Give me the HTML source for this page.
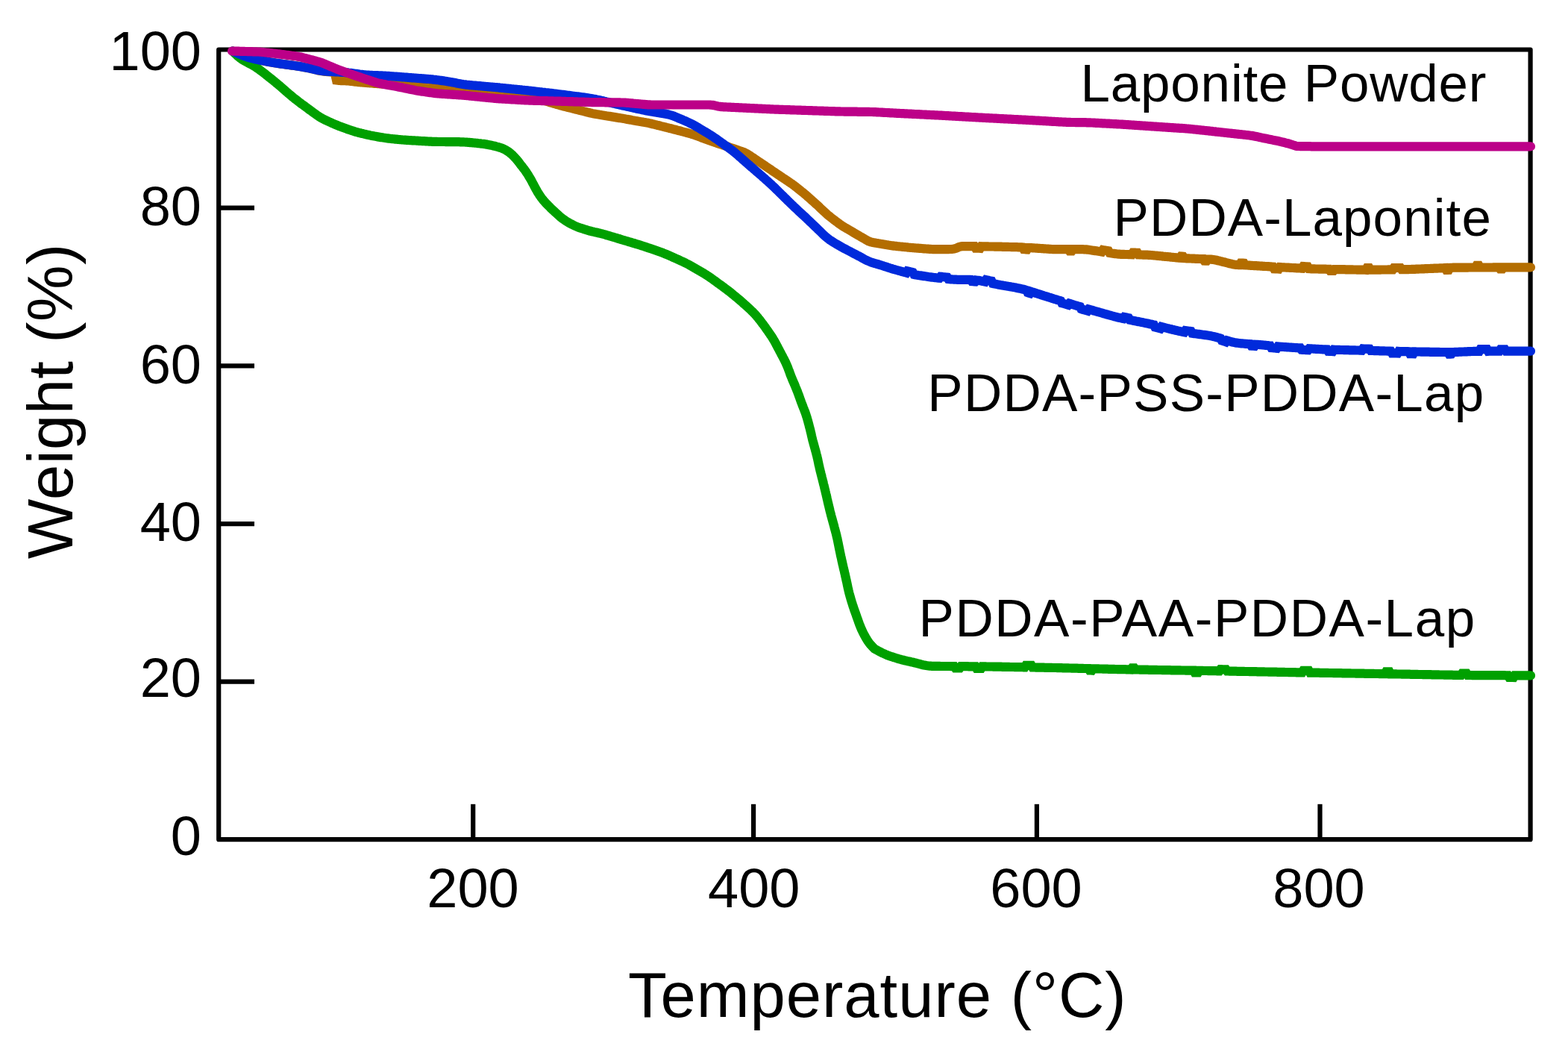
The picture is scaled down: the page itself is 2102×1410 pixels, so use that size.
<!DOCTYPE html>
<html><head><meta charset="utf-8"><title>TGA</title>
<style>html,body{margin:0;padding:0;background:#fff;}body{width:2102px;height:1410px;overflow:hidden;}svg{display:block;}</style>
</head><body>
<svg width="2102" height="1410" viewBox="0 0 2102 1410">
<rect width="2102" height="1410" fill="#fff"/>
<g>
<rect x="293.2" y="66.5" width="1758.4" height="1058.7" fill="none" stroke="#000" stroke-width="6.2" stroke-linejoin="round"/>
<line x1="293.2" y1="278.7" x2="341" y2="278.7" stroke="#000" stroke-width="6.2"/>
<line x1="293.2" y1="490.4" x2="341" y2="490.4" stroke="#000" stroke-width="6.2"/>
<line x1="293.2" y1="702.2" x2="341" y2="702.2" stroke="#000" stroke-width="6.2"/>
<line x1="293.2" y1="913.6" x2="341" y2="913.6" stroke="#000" stroke-width="6.2"/>
<line x1="634.2" y1="1125.2" x2="634.2" y2="1077.8" stroke="#000" stroke-width="6.2"/>
<line x1="1010.1" y1="1125.2" x2="1010.1" y2="1077.8" stroke="#000" stroke-width="6.2"/>
<line x1="1389.9" y1="1125.2" x2="1389.9" y2="1077.8" stroke="#000" stroke-width="6.2"/>
<line x1="1769.5" y1="1125.2" x2="1769.5" y2="1077.8" stroke="#000" stroke-width="6.2"/>
<path d="M312.0 68.5L313.9 69.4L314.9 69.9L316.2 70.4L317.5 71.0L318.8 71.6L320.2 72.3L321.5 72.9L322.9 73.5L324.3 74.1L325.7 74.6L327.1 75.1L328.5 75.6L329.9 76.1L331.4 76.5L332.8 77.0L334.2 77.4L335.7 77.8L337.1 78.2L338.6 78.6L340.0 78.9L341.5 79.2L343.0 79.5L344.4 79.8L345.9 80.1L347.4 80.4L348.9 80.7L350.3 81.0L351.8 81.3L353.3 81.6L354.7 81.9L356.2 82.1L357.7 82.4L359.2 82.7L360.6 82.9L362.1 83.2L363.6 83.5L365.1 83.7L366.5 84.0L368.0 84.3L369.5 84.5L371.0 84.7L372.5 85.0L374.0 85.2L375.4 85.4L376.9 85.6L378.4 85.8L379.9 86.0L381.4 86.2L382.9 86.4L384.4 86.6L385.8 86.8L387.3 87.0L388.8 87.2L390.3 87.4L391.8 87.6L393.3 87.8L394.8 88.0L396.3 88.2L397.7 88.4L399.2 88.6L400.7 88.8L402.2 89.1L403.7 89.3L405.1 89.6L406.6 89.9L408.1 90.1L409.6 90.4L411.0 90.7L412.5 91.0L414.0 91.3L415.4 91.6L416.9 91.9L418.4 92.2L419.8 92.5L421.3 92.9L422.7 93.3L424.2 93.7L425.6 94.1L427.1 94.5L428.5 94.8L430.0 95.1L431.5 95.3L433.0 95.5L434.5 95.7L435.9 95.8L437.4 96.0L438.9 96.1L440.4 96.3L441.9 96.4L443.4 96.5L444.7 96.7L446.0 96.8L447.0 96.9L448.5 97.0L449.0 99.0L449.3 100.2L449.6 101.4L449.9 102.8L450.2 104.1L450.5 105.3L450.7 106.2L451.0 107.5L453.1 107.8L454.2 107.9L455.6 108.0L457.0 108.1L458.5 108.2L459.9 108.2L461.4 108.2L462.9 108.2L464.4 108.3L465.9 108.4L467.4 108.5L468.9 108.7L470.4 108.9L471.9 109.0L473.4 109.2L474.9 109.4L476.4 109.6L477.8 109.8L479.3 109.9L480.8 110.1L482.3 110.2L483.8 110.4L485.3 110.5L486.8 110.6L488.3 110.7L489.8 110.8L491.3 111.0L492.8 111.1L494.3 111.2L495.8 111.3L497.3 111.4L498.8 111.5L500.3 111.7L501.8 111.8L503.3 111.9L504.7 112.0L506.2 112.1L507.7 112.2L509.2 112.3L510.7 112.5L512.2 112.6L513.7 112.7L515.2 112.8L516.7 112.9L518.2 113.0L519.7 113.2L521.2 113.3L522.7 113.4L524.2 113.5L525.7 113.6L527.2 113.7L528.7 113.9L530.2 114.0L531.7 114.1L533.2 114.2L534.7 114.3L536.2 114.4L537.6 114.6L539.1 114.7L540.6 114.8L542.1 114.9L543.6 115.0L545.1 115.2L546.6 115.3L548.1 115.4L549.6 115.5L551.1 115.6L552.6 115.7L554.1 115.9L555.6 116.0L557.1 116.1L558.6 116.1L560.1 116.2L561.6 116.3L563.1 116.3L564.6 116.4L566.1 116.4L567.6 116.5L569.1 116.5L570.6 116.5L572.1 116.6L573.6 116.6L575.1 116.7L576.6 116.7L578.1 116.8L579.6 116.9L581.1 117.0L582.5 117.2L584.0 117.4L585.5 117.6L587.0 117.9L588.5 118.1L590.0 118.3L591.4 118.5L592.9 118.7L594.4 119.0L595.9 119.2L597.4 119.4L598.9 119.6L600.4 119.8L601.8 120.0L603.3 120.1L604.8 120.2L606.3 120.3L607.8 120.4L609.3 120.5L610.8 120.6L612.3 120.7L613.8 120.8L615.3 120.9L616.8 121.0L618.3 121.1L619.8 121.2L621.3 121.3L622.8 121.4L624.3 121.5L625.8 121.6L627.3 121.7L628.8 121.8L630.3 121.9L631.8 122.0L633.3 122.1L634.8 122.2L636.3 122.3L637.8 122.4L639.3 122.5L640.8 122.6L642.2 122.7L643.7 122.8L645.2 122.9L646.7 123.0L648.2 123.1L649.7 123.2L651.2 123.3L652.7 123.4L654.2 123.5L655.7 123.6L657.2 123.7L658.7 123.7L660.2 123.8L661.7 124.0L663.2 124.1L664.7 124.2L666.2 124.3L667.7 124.5L669.2 124.6L670.7 124.8L672.2 124.9L673.6 125.1L675.1 125.3L676.6 125.4L678.1 125.6L679.6 125.8L681.1 126.0L682.6 126.1L684.1 126.3L685.6 126.5L687.1 126.6L688.6 126.8L690.0 127.0L691.5 127.1L693.0 127.3L694.5 127.5L696.0 127.6L697.5 127.8L699.0 128.0L700.5 128.1L702.0 128.3L703.5 128.5L704.9 128.7L706.4 128.9L707.9 129.2L709.4 129.5L710.8 129.8L712.3 130.2L713.7 130.6L715.2 131.0L716.6 131.3L718.1 131.7L719.5 132.1L721.0 132.5L722.4 132.9L723.8 133.3L725.3 133.7L726.7 134.1L728.2 134.5L729.6 134.9L731.1 135.3L732.5 135.8L733.9 136.2L735.4 136.6L736.8 137.1L738.3 137.5L739.7 137.9L741.1 138.3L742.6 138.8L744.0 139.2L745.4 139.6L746.9 140.1L748.3 140.5L749.8 140.9L751.2 141.3L752.6 141.7L754.1 142.1L755.6 142.5L757.0 142.8L758.5 143.2L759.9 143.6L761.4 143.9L762.8 144.3L764.3 144.6L765.7 145.0L767.2 145.4L768.6 145.7L770.1 146.1L771.6 146.5L773.0 146.8L774.5 147.2L775.9 147.6L777.4 147.9L778.8 148.3L780.3 148.6L781.7 149.0L783.2 149.4L784.7 149.7L786.1 150.1L787.6 150.5L789.0 150.8L790.5 151.2L791.9 151.5L793.4 151.9L794.9 152.2L796.3 152.4L797.8 152.7L799.3 153.0L800.8 153.2L802.3 153.4L803.7 153.7L805.2 153.9L806.7 154.2L808.2 154.4L809.7 154.7L811.1 154.9L812.6 155.2L814.1 155.4L815.6 155.7L817.1 155.9L818.5 156.1L820.0 156.4L821.5 156.6L823.0 156.9L824.5 157.1L825.9 157.4L827.4 157.6L828.9 157.9L830.4 158.1L831.9 158.3L833.3 158.6L834.8 158.8L836.3 159.1L837.8 159.3L839.2 159.6L840.7 159.9L842.2 160.1L843.7 160.4L845.2 160.6L846.6 160.9L848.1 161.2L849.6 161.4L851.1 161.7L852.5 161.9L854.0 162.2L855.5 162.5L857.0 162.7L858.5 163.0L859.9 163.2L861.4 163.5L862.9 163.8L864.4 164.0L865.8 164.3L867.3 164.5L868.8 164.8L870.3 165.1L871.7 165.5L873.2 165.8L874.6 166.2L876.1 166.5L877.5 166.9L879.0 167.2L880.5 167.6L881.9 168.0L883.4 168.3L884.8 168.7L886.3 169.1L887.7 169.4L889.2 169.8L890.6 170.1L892.1 170.5L893.6 170.9L895.0 171.2L896.5 171.6L897.9 172.0L899.4 172.3L900.8 172.7L902.3 173.1L903.7 173.5L905.2 173.8L906.6 174.2L908.1 174.6L909.5 175.0L911.0 175.3L912.4 175.7L913.9 176.1L915.3 176.5L916.8 176.9L918.3 177.2L919.7 177.6L921.2 178.0L922.6 178.4L924.1 178.8L925.5 179.2L926.9 179.6L928.4 180.1L929.8 180.5L931.2 181.0L932.6 181.6L934.0 182.1L935.4 182.6L936.8 183.1L938.2 183.6L939.6 184.1L941.0 184.7L942.5 185.2L943.9 185.7L945.3 186.2L946.7 186.7L948.1 187.2L949.5 187.8L950.9 188.3L952.3 188.8L953.7 189.3L955.1 189.8L956.6 190.3L958.0 190.8L959.4 191.3L960.8 191.7L962.2 192.2L963.7 192.7L965.1 193.2L966.5 193.6L967.9 194.1L969.4 194.6L970.8 195.0L972.2 195.5L973.6 196.0L975.0 196.5L976.5 196.9L977.9 197.4L979.3 197.9L980.7 198.4L982.2 198.8L983.6 199.3L985.0 199.8L986.4 200.3L987.8 200.8L989.3 201.3L990.7 201.8L992.1 202.2L993.5 202.7L994.9 203.2L996.3 203.8L997.7 204.3L999.1 204.9L1000.4 205.6L1001.7 206.3L1003.0 207.1L1004.2 207.9L1005.5 208.7L1006.7 209.5L1008.0 210.4L1009.2 211.2L1010.5 212.1L1011.7 212.9L1013.0 213.7L1014.2 214.6L1015.4 215.4L1016.7 216.2L1017.9 217.1L1019.2 217.9L1020.4 218.8L1021.7 219.6L1022.9 220.4L1024.2 221.3L1025.4 222.1L1026.6 223.0L1027.9 223.8L1029.1 224.6L1030.4 225.5L1031.6 226.3L1032.9 227.1L1034.1 228.0L1035.3 228.8L1036.6 229.7L1037.8 230.5L1039.1 231.3L1040.3 232.2L1041.6 233.0L1042.8 233.9L1044.1 234.7L1045.3 235.5L1046.5 236.4L1047.8 237.2L1049.0 238.0L1050.3 238.9L1051.5 239.7L1052.8 240.6L1054.0 241.4L1055.2 242.2L1056.5 243.1L1057.7 243.9L1059.0 244.8L1060.2 245.6L1061.5 246.4L1062.7 247.3L1063.9 248.2L1065.1 249.1L1066.3 250.0L1067.5 250.9L1068.6 251.9L1069.8 252.8L1071.0 253.8L1072.1 254.7L1073.3 255.6L1074.5 256.6L1075.6 257.5L1076.8 258.4L1078.0 259.4L1079.1 260.4L1080.3 261.3L1081.4 262.3L1082.5 263.3L1083.7 264.3L1084.8 265.3L1085.9 266.3L1087.0 267.3L1088.1 268.3L1089.3 269.3L1090.4 270.3L1091.5 271.3L1092.6 272.3L1093.7 273.3L1094.9 274.3L1096.0 275.3L1097.1 276.3L1098.2 277.3L1099.2 278.4L1100.3 279.4L1101.4 280.4L1102.5 281.4L1103.6 282.5L1104.7 283.5L1105.8 284.5L1106.9 285.6L1108.0 286.6L1109.1 287.6L1110.2 288.5L1111.4 289.5L1112.6 290.4L1113.8 291.4L1114.9 292.3L1116.1 293.2L1117.3 294.1L1118.5 295.0L1119.7 295.9L1120.9 296.8L1122.1 297.7L1123.3 298.6L1124.5 299.5L1125.7 300.4L1126.9 301.3L1128.2 302.1L1129.4 302.9L1130.7 303.7L1132.0 304.5L1133.3 305.2L1134.6 306.0L1135.9 306.8L1137.2 307.5L1138.5 308.3L1139.8 309.0L1141.1 309.8L1142.3 310.5L1143.6 311.3L1144.9 312.1L1146.2 312.8L1147.5 313.6L1148.8 314.3L1150.1 315.1L1151.4 315.8L1152.7 316.6L1154.0 317.4L1155.3 318.1L1156.6 318.9L1157.9 319.6L1159.2 320.4L1160.5 321.2L1161.8 321.9L1163.1 322.6L1164.4 323.3L1165.8 323.8L1167.2 324.3L1168.6 324.6L1170.1 325.0L1171.5 325.2L1173.0 325.5L1174.5 325.8L1176.0 326.0L1177.5 326.3L1178.9 326.5L1180.4 326.8L1181.9 327.0L1183.4 327.3L1184.8 327.6L1186.3 327.8L1187.8 328.1L1189.3 328.3L1190.8 328.6L1192.2 328.8L1193.7 329.0L1195.2 329.2L1196.7 329.4L1198.2 329.6L1199.7 329.8L1201.2 329.9L1202.7 330.1L1204.1 330.2L1205.6 330.4L1207.1 330.5L1208.6 330.7L1210.1 330.8L1211.6 331.0L1213.1 331.1L1214.6 331.3L1216.1 331.4L1217.6 331.6L1219.1 331.7L1220.6 331.9L1222.1 332.0L1223.6 332.1L1225.0 332.3L1226.5 332.4L1228.0 332.5L1229.5 332.6L1231.0 332.7L1232.5 332.8L1234.0 332.9L1235.5 333.0L1237.0 333.2L1238.5 333.3L1240.0 333.4L1241.5 333.5L1243.0 333.6L1244.5 333.7L1246.0 333.8L1247.5 333.9L1249.0 334.0L1250.5 334.1L1252.0 334.1L1253.5 334.2L1255.0 334.2L1256.5 334.2L1258.0 334.2L1259.5 334.1L1261.0 334.1L1262.5 334.1L1264.0 334.1L1265.5 334.1L1267.0 334.1L1268.5 334.1L1270.0 334.1L1271.5 334.1L1273.0 334.0L1274.5 334.0L1276.0 334.0L1277.4 333.8L1278.9 333.6L1280.3 333.2L1281.7 332.8L1283.0 332.2L1284.3 331.6L1285.7 331.0L1287.1 330.6L1288.5 330.3L1290.0 330.2L1291.4 330.1L1292.9 330.1L1294.4 330.1L1295.9 330.1L1297.4 330.1L1298.9 330.1L1300.4 330.2L1301.9 330.2L1303.4 330.2L1304.9 330.2L1306.4 330.2L1307.9 332.7L1309.4 332.7L1310.9 332.7L1312.4 332.7L1313.9 332.8L1315.4 330.3L1316.9 330.4L1318.4 330.4L1319.9 330.4L1321.4 330.4L1322.9 330.4L1324.4 330.4L1325.9 330.5L1327.4 330.5L1328.9 330.5L1330.4 330.5L1331.9 330.5L1333.4 330.6L1334.9 330.6L1336.4 330.6L1337.9 330.6L1339.4 330.7L1340.9 330.7L1342.4 330.7L1343.9 330.8L1345.4 330.8L1346.9 330.8L1348.4 330.9L1349.9 330.9L1351.4 330.9L1352.9 331.0L1354.4 331.0L1355.9 331.1L1357.4 331.1L1358.9 331.1L1360.4 331.2L1361.9 331.2L1363.4 331.2L1364.9 331.3L1366.4 331.3L1367.9 331.4L1369.4 331.4L1370.9 331.5L1372.4 334.1L1373.9 334.2L1375.4 334.3L1376.9 334.4L1378.4 332.0L1379.9 332.0L1381.4 332.1L1382.9 332.2L1384.4 332.3L1385.9 332.4L1387.4 332.5L1388.9 332.6L1390.4 332.7L1391.9 332.8L1393.4 332.9L1394.9 333.0L1396.4 333.1L1397.9 333.2L1399.4 333.3L1400.9 333.4L1402.4 333.5L1403.9 333.6L1405.3 333.7L1406.8 333.8L1408.3 333.9L1409.8 334.0L1411.3 334.1L1412.8 334.1L1414.3 334.2L1415.8 334.2L1417.3 334.2L1418.8 334.2L1420.3 334.2L1421.8 334.2L1423.3 334.2L1424.8 334.2L1426.3 334.2L1427.8 334.2L1429.3 334.2L1430.8 334.2L1432.3 334.2L1433.8 336.4L1435.3 336.4L1436.8 336.4L1438.3 334.2L1439.8 334.2L1441.3 334.2L1442.8 334.2L1444.3 334.2L1445.8 334.2L1447.3 334.2L1448.8 334.2L1450.3 334.2L1451.8 334.2L1453.3 334.3L1454.8 334.3L1456.3 334.4L1457.8 334.6L1459.3 334.8L1460.8 335.0L1462.3 335.2L1463.7 335.4L1465.2 335.7L1466.7 335.9L1468.2 336.1L1469.7 336.3L1471.2 336.6L1472.6 336.8L1474.1 337.0L1475.6 337.2L1477.1 337.5L1478.6 335.1L1480.1 335.4L1481.5 335.6L1483.0 335.8L1484.5 336.0L1486.0 336.3L1487.5 339.0L1489.0 339.3L1490.4 339.5L1491.9 339.7L1493.4 339.9L1494.9 340.1L1496.4 340.3L1497.9 340.5L1499.4 340.6L1500.8 340.7L1502.3 340.8L1503.8 340.8L1505.3 340.9L1506.8 340.9L1508.3 341.0L1509.8 341.0L1511.3 341.0L1512.8 341.1L1514.3 341.1L1515.8 341.1L1517.3 341.2L1518.8 338.7L1520.3 338.7L1521.8 338.7L1523.3 338.8L1524.8 338.8L1526.3 341.4L1527.8 341.5L1529.3 341.5L1530.8 341.5L1532.3 341.6L1533.8 341.6L1535.3 341.6L1536.8 341.7L1538.3 341.7L1539.8 341.8L1541.3 341.9L1542.8 342.0L1544.3 342.1L1545.8 342.2L1547.3 342.4L1548.8 342.5L1550.3 342.7L1551.8 342.8L1553.3 343.0L1554.8 343.1L1556.3 343.3L1557.7 343.4L1559.2 343.6L1560.7 343.7L1562.2 343.9L1563.7 344.0L1565.2 344.1L1566.7 344.3L1568.2 344.4L1569.7 344.6L1571.2 344.7L1572.7 344.9L1574.2 345.0L1575.7 345.2L1577.2 345.3L1578.6 345.5L1580.1 345.6L1581.6 345.7L1583.1 343.6L1584.6 343.7L1586.1 343.8L1587.6 346.1L1589.1 346.2L1590.6 346.3L1592.1 346.3L1593.6 346.4L1595.1 346.5L1596.6 346.5L1598.1 346.6L1599.6 346.7L1601.1 346.7L1602.6 346.8L1604.1 346.8L1605.6 346.9L1607.1 347.0L1608.6 347.0L1610.1 347.1L1611.6 347.2L1613.1 347.2L1614.6 349.6L1616.1 349.7L1617.6 349.7L1619.1 347.5L1620.6 347.5L1622.1 347.6L1623.6 347.7L1625.1 347.8L1626.6 348.0L1628.0 348.2L1629.5 348.5L1631.0 348.8L1632.4 349.2L1633.9 349.5L1635.3 349.9L1636.8 350.2L1638.2 350.6L1639.7 351.0L1641.1 351.3L1642.6 351.7L1644.1 352.1L1645.5 352.4L1647.0 352.8L1648.4 353.2L1649.9 353.5L1651.3 353.9L1652.8 354.2L1654.3 354.5L1655.7 354.7L1657.2 354.9L1658.7 355.0L1660.2 355.1L1661.7 355.1L1663.2 352.6L1664.7 352.6L1666.2 352.7L1667.7 352.8L1669.2 355.4L1670.7 355.5L1672.2 355.5L1673.7 355.6L1675.2 355.7L1676.7 355.8L1678.2 355.9L1679.7 356.0L1681.2 356.1L1682.7 356.2L1684.2 356.2L1685.7 356.3L1687.2 356.4L1688.7 356.5L1690.2 356.6L1691.7 356.7L1693.2 356.8L1694.7 356.9L1696.2 357.0L1697.7 357.0L1699.2 357.1L1700.6 357.2L1702.1 357.3L1703.6 357.4L1705.1 357.5L1706.6 357.6L1708.1 360.3L1709.6 360.4L1711.1 360.4L1712.6 360.5L1714.1 360.6L1715.6 358.1L1717.1 358.2L1718.6 358.3L1720.1 358.4L1721.6 358.4L1723.1 358.5L1724.6 358.6L1726.1 358.7L1727.6 358.7L1729.1 358.8L1730.6 358.9L1732.1 359.0L1733.6 359.0L1735.1 359.1L1736.6 359.2L1738.1 359.3L1739.6 359.4L1741.1 359.4L1742.6 359.5L1744.1 359.6L1745.6 359.7L1747.1 357.1L1748.6 357.2L1750.1 357.3L1751.6 357.3L1753.1 357.4L1754.6 360.1L1756.1 360.2L1757.6 360.3L1759.1 360.3L1760.6 360.4L1762.1 360.4L1763.6 360.5L1765.1 360.5L1766.6 360.5L1768.1 360.6L1769.6 360.6L1771.1 360.6L1772.6 360.6L1774.1 360.7L1775.6 360.7L1777.1 360.7L1778.6 360.8L1780.1 360.8L1781.6 360.8L1783.1 363.0L1784.6 363.0L1786.1 363.0L1787.6 363.0L1789.1 361.0L1790.6 361.0L1792.1 361.0L1793.6 361.1L1795.1 361.1L1796.6 361.1L1798.1 361.1L1799.6 361.2L1801.1 361.2L1802.6 361.2L1804.1 361.3L1805.6 361.3L1807.1 361.3L1808.6 361.4L1810.1 361.4L1811.6 361.4L1813.1 361.4L1814.6 361.5L1816.1 361.5L1817.6 361.5L1819.1 361.6L1820.6 361.6L1822.1 361.6L1823.6 361.6L1825.0 361.7L1826.5 361.7L1828.0 361.7L1829.5 361.7L1831.0 361.8L1832.5 359.0L1834.0 359.0L1835.5 359.0L1837.0 361.7L1838.5 361.7L1840.0 361.7L1841.5 361.7L1843.0 361.7L1844.5 361.6L1846.0 361.6L1847.5 361.6L1849.0 361.6L1850.5 361.6L1852.0 361.5L1853.5 361.5L1855.0 361.5L1856.5 361.5L1858.0 361.5L1859.5 361.5L1861.0 361.4L1862.5 361.4L1864.0 361.4L1865.5 361.4L1867.0 361.4L1868.5 359.1L1870.0 359.1L1871.5 359.1L1873.0 359.0L1874.5 359.0L1876.0 359.0L1877.5 359.0L1879.0 361.2L1880.5 361.2L1882.0 361.2L1883.5 361.2L1885.0 361.1L1886.5 361.1L1888.0 361.1L1889.5 361.0L1891.0 361.0L1892.5 360.9L1894.0 360.9L1895.5 360.8L1897.0 360.8L1898.5 360.7L1900.0 360.6L1901.5 360.6L1903.0 360.5L1904.5 360.5L1906.0 360.4L1907.5 360.3L1909.0 360.3L1910.5 360.2L1912.0 360.2L1913.5 360.1L1915.0 360.0L1916.5 360.0L1918.0 359.9L1919.5 359.9L1921.0 359.8L1922.5 359.7L1924.0 359.7L1925.5 359.6L1927.0 359.6L1928.5 359.5L1930.0 359.4L1931.5 359.4L1933.0 359.3L1934.5 359.3L1936.0 359.2L1937.5 359.1L1939.0 361.9L1940.5 361.9L1942.0 361.8L1943.5 358.9L1945.0 358.8L1946.5 358.8L1948.0 358.7L1949.5 358.7L1951.0 358.6L1952.5 358.6L1954.0 358.6L1955.5 358.6L1957.0 358.6L1958.5 358.6L1960.0 358.6L1961.5 358.6L1963.0 358.6L1964.5 358.6L1966.0 358.6L1967.5 358.6L1969.0 358.5L1970.5 358.5L1972.0 358.5L1973.5 358.5L1975.0 358.5L1976.5 358.5L1978.0 358.5L1979.5 355.8L1981.0 355.8L1982.5 355.8L1984.0 358.5L1985.5 358.5L1987.0 358.5L1988.5 358.5L1990.0 358.5L1991.5 358.5L1993.0 358.5L1994.5 358.5L1996.0 358.5L1997.5 358.5L1999.0 358.5L2000.5 358.5L2002.0 358.4L2003.5 358.4L2005.0 358.4L2006.5 358.4L2008.0 358.4L2009.5 358.4L2011.0 360.5L2012.5 360.5L2014.0 360.5L2015.5 358.4L2017.0 358.4L2018.5 358.4L2020.0 358.4L2021.5 358.4L2023.0 358.4L2024.5 358.4L2026.0 358.4L2027.5 358.4L2029.0 358.4L2030.5 358.4L2032.0 358.4L2033.5 358.4L2035.0 358.4L2036.5 358.3L2038.0 358.3L2039.5 358.3L2041.0 358.3L2042.5 358.3L2044.0 358.3L2045.5 358.3L2046.9 358.3L2048.3 358.3L2049.5 358.3L2050.5 358.3L2052.0 358.3" fill="none" stroke="#B36D00" stroke-width="12.2" stroke-linejoin="miter" stroke-miterlimit="3" stroke-linecap="round"/>
<path d="M312.0 68.5L313.9 70.6L314.6 71.3L315.5 72.1L316.4 73.0L317.3 73.9L318.4 74.9L319.5 75.9L320.6 76.8L321.8 77.7L323.0 78.5L324.2 79.4L325.5 80.2L326.8 81.0L328.0 81.7L329.4 82.5L330.7 83.2L332.0 83.9L333.3 84.6L334.6 85.3L336.0 86.0L337.3 86.7L338.6 87.4L339.9 88.2L341.2 88.9L342.4 89.7L343.7 90.5L344.9 91.4L346.1 92.2L347.4 93.1L348.6 94.0L349.8 94.9L351.0 95.8L352.2 96.7L353.4 97.6L354.5 98.5L355.7 99.4L356.9 100.4L358.1 101.3L359.3 102.2L360.4 103.2L361.6 104.1L362.8 105.0L363.9 106.0L365.1 106.9L366.3 107.9L367.4 108.8L368.6 109.8L369.8 110.7L370.9 111.7L372.1 112.6L373.2 113.6L374.4 114.5L375.5 115.5L376.7 116.5L377.8 117.5L378.9 118.5L380.0 119.5L381.2 120.5L382.3 121.4L383.4 122.4L384.5 123.4L385.7 124.4L386.8 125.4L388.0 126.4L389.1 127.3L390.3 128.3L391.4 129.2L392.6 130.2L393.7 131.1L394.9 132.1L396.1 133.0L397.3 133.9L398.5 134.8L399.6 135.8L400.8 136.7L402.0 137.6L403.2 138.5L404.4 139.4L405.7 140.2L406.9 141.1L408.1 142.0L409.3 142.9L410.5 143.8L411.7 144.7L412.9 145.6L414.1 146.5L415.3 147.4L416.5 148.2L417.7 149.1L418.9 150.0L420.2 150.9L421.4 151.8L422.6 152.7L423.8 153.6L425.0 154.4L426.2 155.3L427.5 156.1L428.7 156.9L430.0 157.7L431.3 158.4L432.6 159.2L433.9 159.8L435.3 160.5L436.6 161.1L438.0 161.8L439.4 162.4L440.7 163.0L442.1 163.6L443.5 164.2L444.8 164.9L446.2 165.5L447.6 166.1L448.9 166.7L450.3 167.3L451.7 167.8L453.1 168.4L454.5 169.0L455.9 169.5L457.3 170.0L458.7 170.6L460.1 171.1L461.5 171.6L462.9 172.1L464.3 172.6L465.8 173.1L467.2 173.6L468.6 174.0L470.0 174.5L471.4 175.0L472.8 175.5L474.3 175.9L475.7 176.4L477.1 176.8L478.6 177.2L480.0 177.6L481.5 178.0L482.9 178.3L484.4 178.7L485.9 179.0L487.3 179.4L488.8 179.7L490.2 180.1L491.7 180.4L493.2 180.7L494.6 181.0L496.1 181.4L497.6 181.7L499.0 182.0L500.5 182.3L502.0 182.6L503.4 182.8L504.9 183.1L506.4 183.4L507.9 183.6L509.3 183.9L510.8 184.1L512.3 184.3L513.8 184.6L515.3 184.8L516.8 185.0L518.2 185.2L519.7 185.4L521.2 185.6L522.7 185.8L524.2 186.0L525.7 186.1L527.2 186.3L528.7 186.4L530.2 186.6L531.7 186.7L533.1 186.8L534.6 187.0L536.1 187.1L537.6 187.2L539.1 187.4L540.6 187.5L542.1 187.6L543.6 187.7L545.1 187.8L546.6 187.9L548.1 188.0L549.6 188.1L551.1 188.2L552.6 188.3L554.1 188.3L555.6 188.4L557.1 188.5L558.6 188.6L560.1 188.7L561.6 188.8L563.1 188.9L564.6 189.0L566.1 189.1L567.6 189.2L569.1 189.2L570.6 189.3L572.1 189.4L573.6 189.5L575.1 189.6L576.6 189.7L578.1 189.7L579.5 189.8L581.0 189.8L582.5 189.9L584.0 189.9L585.5 189.9L587.0 190.0L588.5 190.0L590.0 190.0L591.5 190.0L593.0 190.0L594.5 190.0L596.0 190.0L597.5 190.1L599.0 190.1L600.5 190.1L602.0 190.1L603.5 190.1L605.0 190.1L606.5 190.1L608.0 190.2L609.5 190.2L611.0 190.2L612.5 190.2L614.0 190.2L615.5 190.2L617.0 190.3L618.5 190.3L620.0 190.4L621.5 190.4L623.0 190.5L624.5 190.6L626.0 190.7L627.5 190.8L629.0 190.9L630.5 191.1L632.0 191.2L633.5 191.3L635.0 191.5L636.5 191.6L638.0 191.8L639.5 191.9L641.0 192.1L642.4 192.2L643.9 192.4L645.4 192.6L646.9 192.7L648.4 192.9L649.9 193.1L651.4 193.4L652.8 193.6L654.3 193.9L655.8 194.2L657.2 194.5L658.7 194.8L660.2 195.1L661.6 195.5L663.1 195.8L664.5 196.2L666.0 196.6L667.4 196.9L668.9 197.4L670.3 197.8L671.7 198.3L673.1 198.8L674.5 199.4L675.8 200.0L677.1 200.7L678.4 201.4L679.7 202.2L681.0 203.0L682.2 203.8L683.4 204.7L684.5 205.7L685.7 206.6L686.8 207.6L687.8 208.7L688.9 209.7L689.9 210.8L690.9 211.9L691.9 213.1L692.9 214.2L693.8 215.4L694.8 216.5L695.7 217.7L696.6 218.9L697.5 220.1L698.4 221.3L699.4 222.4L700.3 223.6L701.2 224.8L702.1 226.0L703.0 227.2L703.9 228.4L704.8 229.6L705.6 230.9L706.4 232.1L707.3 233.4L708.1 234.6L708.8 235.9L709.6 237.2L710.4 238.5L711.1 239.8L711.9 241.1L712.6 242.4L713.3 243.7L714.0 245.1L714.7 246.4L715.4 247.7L716.1 249.0L716.8 250.4L717.5 251.7L718.2 253.0L718.9 254.3L719.7 255.6L720.4 256.9L721.2 258.2L722.0 259.5L722.8 260.7L723.6 262.0L724.5 263.2L725.3 264.4L726.2 265.6L727.1 266.8L728.1 268.0L729.0 269.1L730.0 270.3L731.0 271.4L732.0 272.5L733.1 273.6L734.1 274.6L735.2 275.7L736.2 276.8L737.3 277.8L738.3 278.9L739.4 279.9L740.5 281.0L741.6 282.0L742.7 283.0L743.8 284.1L744.9 285.1L746.0 286.1L747.1 287.1L748.2 288.1L749.3 289.1L750.4 290.1L751.6 291.0L752.8 292.0L753.9 292.9L755.1 293.8L756.4 294.6L757.6 295.5L758.9 296.3L760.1 297.1L761.4 297.8L762.7 298.6L764.0 299.3L765.3 300.0L766.7 300.7L768.0 301.4L769.3 302.1L770.7 302.7L772.0 303.3L773.4 303.9L774.8 304.4L776.2 304.9L777.6 305.4L779.1 305.9L780.5 306.3L781.9 306.8L783.3 307.3L784.8 307.7L786.2 308.2L787.6 308.6L789.1 309.0L790.5 309.5L791.9 309.8L793.4 310.2L794.9 310.5L796.3 310.9L797.8 311.2L799.2 311.5L800.7 311.8L802.2 312.2L803.6 312.5L805.1 312.9L806.5 313.2L808.0 313.6L809.4 314.0L810.9 314.4L812.3 314.8L813.7 315.3L815.2 315.7L816.6 316.1L818.1 316.5L819.5 317.0L820.9 317.4L822.4 317.8L823.8 318.3L825.2 318.7L826.7 319.1L828.1 319.6L829.6 320.0L831.0 320.4L832.4 320.9L833.9 321.3L835.3 321.7L836.7 322.2L838.2 322.6L839.6 323.0L841.0 323.4L842.5 323.9L843.9 324.3L845.4 324.7L846.8 325.2L848.2 325.6L849.7 326.0L851.1 326.4L852.5 326.9L854.0 327.3L855.4 327.7L856.9 328.2L858.3 328.6L859.7 329.1L861.2 329.5L862.6 330.0L864.0 330.4L865.4 330.9L866.9 331.4L868.3 331.9L869.7 332.4L871.1 332.8L872.5 333.3L873.9 333.8L875.4 334.3L876.8 334.8L878.2 335.3L879.6 335.8L881.0 336.3L882.4 336.8L883.8 337.3L885.3 337.8L886.7 338.3L888.1 338.8L889.5 339.4L890.9 339.9L892.3 340.5L893.6 341.0L895.0 341.6L896.4 342.2L897.8 342.8L899.1 343.4L900.5 344.0L901.9 344.7L903.3 345.3L904.6 345.9L906.0 346.5L907.4 347.1L908.7 347.7L910.1 348.3L911.5 349.0L912.8 349.6L914.2 350.2L915.5 350.8L916.9 351.5L918.2 352.1L919.6 352.8L920.9 353.5L922.2 354.2L923.6 354.9L924.9 355.7L926.2 356.4L927.5 357.1L928.8 357.9L930.1 358.6L931.4 359.4L932.7 360.1L934.0 360.9L935.3 361.6L936.6 362.4L937.9 363.1L939.2 363.9L940.5 364.6L941.8 365.4L943.1 366.1L944.3 366.9L945.6 367.7L946.9 368.5L948.2 369.3L949.4 370.1L950.7 371.0L951.9 371.8L953.1 372.7L954.3 373.5L955.6 374.4L956.8 375.3L958.0 376.2L959.2 377.0L960.4 377.9L961.6 378.8L962.8 379.7L964.1 380.6L965.3 381.5L966.5 382.3L967.7 383.2L968.9 384.1L970.1 385.0L971.3 385.9L972.5 386.8L973.7 387.7L974.9 388.6L976.1 389.5L977.3 390.4L978.5 391.3L979.7 392.3L980.8 393.2L982.0 394.2L983.1 395.1L984.3 396.1L985.4 397.0L986.6 398.0L987.7 398.9L988.9 399.9L990.0 400.9L991.2 401.8L992.3 402.8L993.5 403.8L994.6 404.8L995.7 405.8L996.8 406.8L998.0 407.8L999.1 408.8L1000.2 409.8L1001.3 410.8L1002.4 411.8L1003.5 412.8L1004.6 413.8L1005.7 414.8L1006.8 415.9L1007.9 416.9L1009.0 417.9L1010.0 419.0L1011.1 420.1L1012.1 421.2L1013.1 422.3L1014.1 423.4L1015.0 424.6L1016.0 425.7L1016.9 426.9L1017.8 428.1L1018.8 429.2L1019.7 430.4L1020.6 431.6L1021.5 432.8L1022.4 434.0L1023.3 435.2L1024.2 436.4L1025.1 437.6L1026.0 438.8L1026.8 440.1L1027.7 441.3L1028.6 442.5L1029.4 443.7L1030.3 445.0L1031.1 446.2L1032.0 447.4L1032.8 448.7L1033.7 449.9L1034.5 451.2L1035.3 452.4L1036.1 453.7L1036.9 455.0L1037.6 456.3L1038.4 457.6L1039.1 458.9L1039.8 460.2L1040.5 461.5L1041.2 462.8L1041.9 464.2L1042.6 465.5L1043.3 466.8L1044.0 468.1L1044.7 469.5L1045.4 470.8L1046.1 472.1L1046.8 473.5L1047.5 474.8L1048.2 476.1L1048.9 477.4L1049.6 478.8L1050.3 480.1L1051.0 481.4L1051.7 482.8L1052.3 484.1L1053.0 485.5L1053.6 486.8L1054.2 488.2L1054.8 489.6L1055.4 490.9L1056.0 492.3L1056.5 493.7L1057.0 495.1L1057.6 496.5L1058.1 497.9L1058.6 499.3L1059.1 500.8L1059.6 502.2L1060.2 503.6L1060.7 505.0L1061.3 506.3L1061.8 507.7L1062.4 509.1L1063.0 510.5L1063.6 511.9L1064.2 513.3L1064.8 514.6L1065.4 516.0L1066.0 517.4L1066.5 518.8L1067.1 520.2L1067.7 521.5L1068.2 522.9L1068.8 524.3L1069.3 525.7L1069.8 527.1L1070.4 528.5L1070.9 530.0L1071.4 531.4L1071.9 532.8L1072.4 534.2L1072.9 535.6L1073.4 537.0L1073.9 538.4L1074.4 539.8L1075.0 541.2L1075.5 542.6L1076.0 544.0L1076.6 545.4L1077.1 546.8L1077.7 548.2L1078.2 549.6L1078.8 551.0L1079.3 552.4L1079.8 553.8L1080.3 555.2L1080.8 556.7L1081.2 558.1L1081.7 559.5L1082.1 561.0L1082.5 562.4L1082.9 563.8L1083.3 565.3L1083.7 566.7L1084.1 568.2L1084.5 569.6L1084.8 571.1L1085.2 572.5L1085.6 574.0L1086.0 575.4L1086.3 576.9L1086.7 578.4L1087.0 579.8L1087.4 581.3L1087.7 582.7L1088.0 584.2L1088.4 585.7L1088.7 587.1L1089.1 588.6L1089.4 590.0L1089.8 591.5L1090.2 592.9L1090.6 594.4L1091.0 595.8L1091.4 597.3L1091.8 598.7L1092.2 600.2L1092.6 601.6L1093.0 603.1L1093.4 604.5L1093.8 606.0L1094.2 607.4L1094.5 608.8L1094.9 610.3L1095.3 611.8L1095.6 613.2L1096.0 614.7L1096.3 616.1L1096.6 617.6L1096.9 619.1L1097.2 620.5L1097.5 622.0L1097.8 623.5L1098.2 624.9L1098.5 626.4L1098.8 627.9L1099.2 629.3L1099.5 630.8L1099.9 632.2L1100.3 633.7L1100.6 635.1L1101.0 636.6L1101.4 638.0L1101.7 639.5L1102.1 641.0L1102.5 642.4L1102.8 643.9L1103.2 645.3L1103.6 646.8L1103.9 648.2L1104.3 649.7L1104.7 651.1L1105.0 652.6L1105.4 654.1L1105.7 655.5L1106.1 657.0L1106.4 658.4L1106.8 659.9L1107.1 661.3L1107.5 662.8L1107.8 664.3L1108.2 665.7L1108.5 667.2L1108.8 668.6L1109.2 670.1L1109.5 671.6L1109.8 673.0L1110.2 674.5L1110.5 676.0L1110.9 677.4L1111.2 678.9L1111.6 680.3L1111.9 681.8L1112.3 683.2L1112.6 684.7L1113.0 686.2L1113.4 687.6L1113.8 689.1L1114.1 690.5L1114.5 692.0L1114.9 693.4L1115.3 694.9L1115.7 696.3L1116.1 697.8L1116.5 699.2L1116.9 700.6L1117.3 702.1L1117.7 703.5L1118.1 705.0L1118.4 706.4L1118.8 707.9L1119.2 709.3L1119.6 710.8L1120.0 712.2L1120.4 713.7L1120.8 715.1L1121.1 716.6L1121.5 718.0L1121.8 719.5L1122.2 721.0L1122.5 722.4L1122.8 723.9L1123.1 725.4L1123.4 726.8L1123.7 728.3L1124.0 729.8L1124.3 731.2L1124.6 732.7L1124.9 734.2L1125.2 735.7L1125.5 737.1L1125.8 738.6L1126.1 740.1L1126.4 741.5L1126.7 743.0L1127.0 744.5L1127.3 745.9L1127.7 747.4L1128.0 748.9L1128.3 750.3L1128.6 751.8L1129.0 753.2L1129.3 754.7L1129.6 756.2L1130.0 757.6L1130.3 759.1L1130.6 760.6L1131.0 762.0L1131.3 763.5L1131.7 764.9L1132.0 766.4L1132.3 767.9L1132.7 769.3L1133.0 770.8L1133.3 772.3L1133.7 773.7L1134.0 775.2L1134.3 776.6L1134.6 778.1L1135.0 779.6L1135.3 781.0L1135.6 782.5L1135.9 784.0L1136.2 785.4L1136.5 786.9L1136.8 788.4L1137.2 789.8L1137.5 791.3L1137.9 792.8L1138.2 794.2L1138.6 795.7L1139.0 797.1L1139.4 798.6L1139.8 800.0L1140.2 801.4L1140.6 802.9L1141.0 804.3L1141.5 805.8L1141.9 807.2L1142.4 808.6L1142.8 810.0L1143.3 811.5L1143.7 812.9L1144.2 814.3L1144.7 815.7L1145.2 817.2L1145.7 818.6L1146.2 820.0L1146.7 821.4L1147.2 822.8L1147.7 824.2L1148.2 825.6L1148.7 827.1L1149.2 828.5L1149.7 829.9L1150.2 831.3L1150.7 832.7L1151.2 834.1L1151.7 835.5L1152.2 836.9L1152.8 838.3L1153.3 839.7L1153.9 841.1L1154.5 842.5L1155.1 843.9L1155.7 845.2L1156.4 846.6L1157.0 847.9L1157.7 849.3L1158.4 850.6L1159.1 851.9L1159.8 853.2L1160.5 854.5L1161.3 855.8L1162.1 857.1L1162.9 858.4L1163.7 859.6L1164.5 860.8L1165.4 862.0L1166.3 863.1L1167.2 864.2L1168.1 865.2L1168.9 866.1L1169.7 866.9L1170.4 867.6L1172.3 869.5L1174.8 870.9L1175.6 871.4L1176.6 872.0L1177.8 872.6L1179.0 873.2L1180.2 873.9L1181.5 874.5L1182.9 875.2L1184.2 875.8L1185.6 876.4L1186.9 877.0L1188.3 877.6L1189.7 878.2L1191.1 878.7L1192.5 879.2L1193.9 879.7L1195.4 880.2L1196.8 880.6L1198.2 881.1L1199.6 881.5L1201.1 882.0L1202.5 882.4L1203.9 882.9L1205.4 883.3L1206.8 883.7L1208.3 884.1L1209.7 884.5L1211.2 884.8L1212.6 885.2L1214.1 885.5L1215.6 885.9L1217.0 886.2L1218.5 886.5L1219.9 886.8L1221.4 887.2L1222.9 887.5L1224.3 887.8L1225.8 888.2L1227.2 888.5L1228.7 888.9L1230.2 889.3L1231.6 889.7L1233.0 890.1L1234.5 890.4L1235.9 890.8L1237.4 891.2L1238.8 891.5L1240.3 891.8L1241.8 892.1L1243.2 892.3L1244.7 892.5L1246.2 892.6L1247.7 892.7L1249.2 892.8L1250.7 892.8L1252.2 892.9L1253.7 892.9L1255.2 892.9L1256.7 892.9L1258.2 892.9L1259.7 892.9L1261.2 893.0L1262.7 893.0L1264.2 893.0L1265.7 893.0L1267.2 893.0L1268.7 893.0L1270.2 893.0L1271.7 893.0L1273.2 893.0L1274.7 893.1L1276.2 893.1L1277.7 893.1L1279.2 893.1L1280.7 895.3L1282.2 895.3L1283.7 895.3L1285.2 895.3L1286.7 895.3L1288.2 893.2L1289.7 893.2L1291.2 893.2L1292.7 893.2L1294.2 893.2L1295.7 893.2L1297.2 893.2L1298.7 893.3L1300.2 893.3L1301.7 893.3L1303.2 893.3L1304.7 893.3L1306.2 893.3L1307.7 893.3L1309.2 895.9L1310.7 895.9L1312.2 895.9L1313.7 896.0L1315.2 896.0L1316.7 893.4L1318.2 893.4L1319.7 893.4L1321.2 893.4L1322.7 893.5L1324.2 893.5L1325.7 893.5L1327.2 893.5L1328.7 893.5L1330.2 893.5L1331.7 893.6L1333.2 893.6L1334.7 893.6L1336.2 893.6L1337.7 893.7L1339.2 893.7L1340.7 893.7L1342.2 893.7L1343.7 893.8L1345.2 893.8L1346.7 893.8L1348.2 893.8L1349.7 893.9L1351.2 893.9L1352.7 893.9L1354.2 894.0L1355.7 894.0L1357.2 894.0L1358.7 894.0L1360.2 894.1L1361.7 894.1L1363.2 894.1L1364.7 894.1L1366.2 894.2L1367.7 894.2L1369.2 894.2L1370.7 894.2L1372.2 894.3L1373.7 894.3L1375.2 891.8L1376.7 891.8L1378.2 891.9L1379.7 891.9L1381.2 891.9L1382.7 891.9L1384.2 894.5L1385.7 894.5L1387.2 894.5L1388.7 894.6L1390.2 894.6L1391.7 894.6L1393.2 894.6L1394.7 894.7L1396.2 894.7L1397.7 894.7L1399.2 894.7L1400.7 894.8L1402.2 894.8L1403.7 894.8L1405.2 894.8L1406.7 894.9L1408.2 894.9L1409.7 894.9L1411.2 895.0L1412.7 895.0L1414.2 895.0L1415.7 895.0L1417.2 895.1L1418.7 895.1L1420.2 895.2L1421.7 895.2L1423.2 895.2L1424.7 895.3L1426.2 895.3L1427.6 895.3L1429.1 895.4L1430.6 895.4L1432.1 895.4L1433.6 895.5L1435.1 895.5L1436.6 895.6L1438.1 895.6L1439.6 895.6L1441.1 895.7L1442.6 895.7L1444.1 895.7L1445.6 895.8L1447.1 895.8L1448.6 895.8L1450.1 895.9L1451.6 895.9L1453.1 896.0L1454.6 896.0L1456.1 896.0L1457.6 896.1L1459.1 896.1L1460.6 898.5L1462.1 898.5L1463.6 898.6L1465.1 896.3L1466.6 896.3L1468.1 896.3L1469.6 896.4L1471.1 896.4L1472.6 896.4L1474.1 896.5L1475.6 896.5L1477.1 896.5L1478.6 896.6L1480.1 896.6L1481.6 896.7L1483.1 896.7L1484.6 896.7L1486.1 896.8L1487.6 896.8L1489.1 896.8L1490.6 896.9L1492.1 896.9L1493.6 896.9L1495.1 897.0L1496.6 897.0L1498.1 897.1L1499.6 897.1L1501.1 897.1L1502.6 897.1L1504.1 897.2L1505.6 897.2L1507.1 897.2L1508.6 897.2L1510.1 897.3L1511.6 897.3L1513.1 897.3L1514.6 897.3L1516.1 897.4L1517.6 895.3L1519.1 895.3L1520.6 895.3L1522.1 897.5L1523.6 897.5L1525.1 897.5L1526.6 897.5L1528.1 897.6L1529.6 897.6L1531.1 897.6L1532.6 897.6L1534.1 897.7L1535.6 897.7L1537.1 897.7L1538.6 897.7L1540.1 897.8L1541.6 897.8L1543.1 897.8L1544.6 897.8L1546.1 897.9L1547.6 897.9L1549.1 897.9L1550.6 897.9L1552.1 898.0L1553.6 898.0L1555.1 898.0L1556.6 898.0L1558.1 898.1L1559.6 898.1L1561.1 898.1L1562.6 898.1L1564.1 898.2L1565.6 898.2L1567.1 898.2L1568.6 898.2L1570.1 898.3L1571.6 898.3L1573.1 898.3L1574.6 898.3L1576.1 898.3L1577.6 898.4L1579.1 898.4L1580.6 898.4L1582.1 898.4L1583.6 898.5L1585.1 898.5L1586.6 898.5L1588.1 898.5L1589.6 898.6L1591.1 898.6L1592.6 898.6L1594.1 898.6L1595.6 898.7L1597.1 898.7L1598.6 898.7L1600.1 898.7L1601.6 901.5L1603.1 901.5L1604.6 901.5L1606.1 901.5L1607.6 898.9L1609.1 898.9L1610.6 898.9L1612.1 898.9L1613.6 899.0L1615.1 899.0L1616.6 899.0L1618.1 899.0L1619.6 899.1L1621.1 899.1L1622.6 899.1L1624.1 899.1L1625.6 899.2L1627.1 899.2L1628.6 899.2L1630.1 899.2L1631.6 899.3L1633.1 899.3L1634.6 899.3L1636.1 897.2L1637.6 897.2L1639.1 897.3L1640.6 897.3L1642.1 897.3L1643.6 897.3L1645.1 899.5L1646.6 899.5L1648.1 899.6L1649.6 899.6L1651.1 899.6L1652.6 899.7L1654.1 899.7L1655.6 899.7L1657.1 899.7L1658.6 899.8L1660.1 899.8L1661.6 899.8L1663.1 899.9L1664.6 899.9L1666.1 899.9L1667.6 899.9L1669.1 900.0L1670.6 900.0L1672.1 900.0L1673.6 900.0L1675.1 900.1L1676.6 900.1L1678.1 900.1L1679.6 900.2L1681.1 900.2L1682.6 900.2L1684.1 900.2L1685.6 900.3L1687.1 900.3L1688.6 900.3L1690.1 900.4L1691.6 900.4L1693.1 900.4L1694.6 900.4L1696.1 900.5L1697.6 900.5L1699.1 900.5L1700.6 900.6L1702.1 900.6L1703.6 900.6L1705.1 900.6L1706.6 900.7L1708.1 900.7L1709.6 900.7L1711.1 900.7L1712.6 900.8L1714.1 900.8L1715.6 900.8L1717.1 900.9L1718.6 900.9L1720.1 900.9L1721.6 900.9L1723.1 901.0L1724.6 901.0L1726.1 901.0L1727.6 901.1L1729.1 901.1L1730.6 901.1L1732.1 901.1L1733.6 901.2L1735.1 901.2L1736.6 901.2L1738.1 901.3L1739.6 901.3L1741.1 901.3L1742.6 901.3L1744.1 901.4L1745.6 901.4L1747.1 898.8L1748.6 898.8L1750.1 898.9L1751.6 898.9L1753.1 898.9L1754.6 898.9L1756.1 901.6L1757.6 901.6L1759.1 901.6L1760.6 901.6L1762.1 901.7L1763.6 901.7L1765.1 901.7L1766.6 901.7L1768.1 901.7L1769.6 901.8L1771.1 901.8L1772.6 901.8L1774.1 901.8L1775.6 901.9L1777.1 901.9L1778.6 901.9L1780.1 901.9L1781.6 902.0L1783.1 902.0L1784.6 902.0L1786.1 902.0L1787.6 902.1L1789.1 902.1L1790.6 902.1L1792.1 902.1L1793.6 902.2L1795.1 902.2L1796.6 902.2L1798.1 902.2L1799.6 902.3L1801.1 902.3L1802.6 902.3L1804.1 902.3L1805.6 902.4L1807.1 902.4L1808.6 902.4L1810.1 902.4L1811.6 902.5L1813.1 902.5L1814.6 902.5L1816.1 902.5L1817.6 902.6L1819.1 902.6L1820.6 902.6L1822.1 902.6L1823.6 902.7L1825.1 902.7L1826.6 902.7L1828.1 902.7L1829.6 902.8L1831.1 902.8L1832.6 902.8L1834.1 902.8L1835.6 902.8L1837.1 902.9L1838.6 902.9L1840.1 902.9L1841.6 902.9L1843.1 903.0L1844.6 903.0L1846.1 903.0L1847.6 903.0L1849.1 903.1L1850.6 903.1L1852.1 903.1L1853.6 903.1L1855.1 903.2L1856.6 903.2L1858.1 900.4L1859.6 900.4L1861.1 900.4L1862.6 900.4L1864.1 903.3L1865.6 903.3L1867.1 903.4L1868.6 903.4L1870.1 903.4L1871.6 903.4L1873.1 903.5L1874.6 903.5L1876.1 903.5L1877.6 903.5L1879.1 903.6L1880.6 903.6L1882.1 903.6L1883.6 903.6L1885.1 903.7L1886.6 903.7L1888.1 903.7L1889.6 903.7L1891.1 903.8L1892.6 903.8L1894.1 903.8L1895.6 903.9L1897.1 903.9L1898.6 903.9L1900.1 903.9L1901.6 904.0L1903.1 904.0L1904.6 904.0L1906.1 904.0L1907.6 904.1L1909.1 904.1L1910.6 904.1L1912.1 904.1L1913.6 904.2L1915.1 904.2L1916.6 904.2L1918.1 904.2L1919.6 904.3L1921.1 904.3L1922.6 904.3L1924.1 904.4L1925.6 904.4L1927.1 904.4L1928.6 904.4L1930.1 904.5L1931.6 904.5L1933.1 904.5L1934.6 904.5L1936.1 904.6L1937.6 904.6L1939.1 904.6L1940.6 904.6L1942.1 904.7L1943.6 904.7L1945.1 904.7L1946.6 904.7L1948.1 904.8L1949.6 904.8L1951.1 904.8L1952.6 904.9L1954.1 904.9L1955.6 904.9L1957.1 904.9L1958.6 904.9L1960.1 902.6L1961.6 902.6L1963.1 902.6L1964.6 902.6L1966.1 902.6L1967.6 905.0L1969.1 905.0L1970.6 905.0L1972.1 905.0L1973.6 905.1L1975.1 905.1L1976.6 905.1L1978.1 905.1L1979.6 905.1L1981.1 905.1L1982.6 905.1L1984.1 905.1L1985.6 905.1L1987.1 905.1L1988.6 905.1L1990.1 905.1L1991.6 905.1L1993.1 905.1L1994.6 905.1L1996.1 905.2L1997.6 905.2L1999.1 905.2L2000.6 905.2L2002.1 905.2L2003.6 905.2L2005.1 905.2L2006.6 905.2L2008.1 905.2L2009.6 905.2L2011.1 905.2L2012.6 905.2L2014.1 905.2L2015.6 905.2L2017.1 905.2L2018.6 905.3L2020.1 905.3L2021.6 905.3L2023.1 907.8L2024.6 907.8L2026.1 907.8L2027.6 907.8L2029.1 907.9L2030.6 905.3L2032.1 905.3L2033.6 905.3L2035.1 905.3L2036.6 905.3L2038.1 905.3L2039.5 905.3L2041.0 905.4L2042.5 905.4L2043.9 905.4L2045.3 905.4L2046.6 905.4L2047.8 905.4L2048.9 905.4L2049.8 905.4L2052.0 905.4" fill="none" stroke="#00A000" stroke-width="12.2" stroke-linejoin="miter" stroke-miterlimit="3" stroke-linecap="round"/>
<path d="M312.0 68.5L314.9 69.8L315.8 70.2L316.8 70.7L317.9 71.2L319.1 71.7L320.4 72.3L321.7 72.8L323.0 73.4L324.4 73.9L325.8 74.5L327.2 75.0L328.6 75.5L330.0 76.0L331.4 76.4L332.8 76.9L334.3 77.3L335.7 77.7L337.2 78.1L338.6 78.4L340.1 78.8L341.5 79.1L343.0 79.5L344.5 79.8L345.9 80.1L347.4 80.4L348.9 80.7L350.3 81.0L351.8 81.3L353.3 81.6L354.7 81.8L356.2 82.1L357.7 82.4L359.2 82.7L360.6 82.9L362.1 83.2L363.6 83.4L365.1 83.7L366.6 84.0L368.0 84.2L369.5 84.5L371.0 84.7L372.5 84.9L374.0 85.1L375.4 85.4L376.9 85.6L378.4 85.8L379.9 86.0L381.4 86.2L382.9 86.4L384.4 86.6L385.8 86.8L387.3 87.0L388.8 87.2L390.3 87.4L391.8 87.6L393.3 87.8L394.8 88.0L396.2 88.2L397.7 88.4L399.2 88.7L400.7 88.9L402.2 89.1L403.7 89.4L405.1 89.6L406.6 89.9L408.1 90.2L409.6 90.4L411.0 90.7L412.5 91.0L414.0 91.3L415.4 91.6L416.9 92.0L418.4 92.3L419.8 92.6L421.3 93.0L422.7 93.3L424.2 93.6L425.7 94.0L427.1 94.3L428.6 94.5L430.1 94.8L431.5 95.0L433.0 95.2L434.5 95.3L436.0 95.5L437.5 95.6L439.0 95.7L440.5 95.8L442.0 95.9L443.5 96.0L445.0 96.0L446.4 96.1L447.9 96.2L449.4 96.3L450.9 96.3L452.4 96.4L453.9 96.5L455.4 96.6L456.9 96.7L458.4 96.8L459.9 96.9L461.4 97.0L462.9 97.1L464.4 97.2L465.9 97.4L467.4 97.6L468.9 97.7L470.4 97.9L471.8 98.1L473.3 98.3L474.8 98.5L476.3 98.7L477.8 98.9L479.3 99.1L480.8 99.4L482.2 99.6L483.7 99.7L485.2 99.9L486.7 100.1L488.2 100.3L489.7 100.4L491.2 100.5L492.7 100.6L494.2 100.7L495.7 100.8L497.2 100.9L498.7 100.9L500.2 101.0L501.7 101.1L503.2 101.1L504.7 101.2L506.2 101.2L507.7 101.3L509.2 101.3L510.6 101.4L512.1 101.4L513.6 101.5L515.1 101.6L516.6 101.7L518.1 101.8L519.6 101.8L521.1 101.9L522.6 102.0L524.1 102.2L525.6 102.3L527.1 102.4L528.6 102.5L530.1 102.6L531.6 102.7L533.1 102.8L534.6 102.9L536.1 103.1L537.6 103.2L539.1 103.3L540.6 103.4L542.1 103.5L543.6 103.6L545.1 103.7L546.6 103.8L548.1 104.0L549.6 104.1L551.0 104.2L552.5 104.3L554.0 104.4L555.5 104.5L557.0 104.6L558.5 104.8L560.0 104.9L561.5 105.0L563.0 105.1L564.5 105.2L566.0 105.3L567.5 105.4L569.0 105.6L570.5 105.7L572.0 105.8L573.5 105.9L575.0 106.0L576.5 106.1L578.0 106.3L579.5 106.4L580.9 106.6L582.4 106.7L583.9 106.9L585.4 107.1L586.9 107.2L588.4 107.4L589.9 107.7L591.4 107.9L592.8 108.1L594.3 108.3L595.8 108.6L597.3 108.8L598.8 109.0L600.2 109.3L601.7 109.5L603.2 109.8L604.7 110.0L606.2 110.3L607.6 110.6L609.1 110.8L610.6 111.1L612.1 111.4L613.5 111.7L615.0 111.9L616.5 112.2L618.0 112.5L619.4 112.7L620.9 113.0L622.4 113.2L623.9 113.4L625.4 113.6L626.9 113.7L628.3 113.9L629.8 114.1L631.3 114.2L632.8 114.3L634.3 114.5L635.8 114.6L637.3 114.7L638.8 114.8L640.3 115.0L641.8 115.1L643.3 115.2L644.8 115.3L646.3 115.5L647.8 115.6L649.3 115.7L650.8 115.9L652.2 116.0L653.7 116.1L655.2 116.2L656.7 116.4L658.2 116.5L659.7 116.6L661.2 116.7L662.7 116.9L664.2 117.0L665.7 117.1L667.2 117.3L668.7 117.4L670.2 117.6L671.7 117.7L673.2 117.9L674.7 118.0L676.1 118.2L677.6 118.3L679.1 118.5L680.6 118.6L682.1 118.8L683.6 118.9L685.1 119.1L686.6 119.2L688.1 119.4L689.6 119.5L691.1 119.7L692.6 119.8L694.1 120.0L695.6 120.1L697.0 120.3L698.5 120.4L700.0 120.6L701.5 120.7L703.0 120.9L704.5 121.0L706.0 121.2L707.5 121.3L709.0 121.5L710.5 121.7L712.0 121.8L713.5 122.0L714.9 122.2L716.4 122.3L717.9 122.5L719.4 122.7L720.9 122.9L722.4 123.0L723.9 123.2L725.4 123.4L726.9 123.6L728.4 123.7L729.8 123.9L731.3 124.1L732.8 124.2L734.3 124.4L735.8 124.6L737.3 124.8L738.8 124.9L740.3 125.1L741.8 125.3L743.2 125.5L744.7 125.6L746.2 125.8L747.7 126.0L749.2 126.2L750.7 126.4L752.2 126.5L753.7 126.7L755.2 126.9L756.6 127.1L758.1 127.3L759.6 127.5L761.1 127.7L762.6 127.9L764.1 128.1L765.6 128.3L767.1 128.5L768.5 128.7L770.0 128.9L771.5 129.0L773.0 129.2L774.5 129.4L776.0 129.6L777.5 129.8L779.0 130.0L780.4 130.2L781.9 130.4L783.4 130.6L784.9 130.8L786.4 131.0L787.9 131.2L789.4 131.5L790.8 131.7L792.3 131.9L793.8 132.2L795.3 132.5L796.7 132.7L798.2 133.0L799.7 133.4L801.1 133.7L802.6 134.0L804.1 134.3L805.5 134.7L807.0 135.0L808.4 135.3L809.9 135.7L811.4 136.0L812.8 136.4L814.3 136.7L815.7 137.0L817.2 137.4L818.7 137.7L820.1 138.1L821.6 138.4L823.1 138.7L824.5 139.1L826.0 139.4L827.4 139.8L828.9 140.1L830.4 140.4L831.8 140.8L833.3 141.1L834.7 141.5L836.2 141.8L837.7 142.1L839.1 142.4L840.6 142.8L842.1 143.1L843.5 143.4L845.0 143.7L846.5 144.1L847.9 144.4L849.4 144.7L850.9 145.0L852.3 145.3L853.8 145.7L855.3 146.0L856.7 146.3L858.2 146.6L859.6 146.9L861.1 147.3L862.6 147.6L864.0 147.9L865.5 148.2L867.0 148.5L868.5 148.8L869.9 149.0L871.4 149.3L872.9 149.6L874.4 149.8L875.8 150.0L877.3 150.3L878.8 150.5L880.3 150.7L881.8 151.0L883.3 151.2L884.7 151.4L886.2 151.7L887.7 151.9L889.2 152.1L890.7 152.4L892.1 152.6L893.6 152.9L895.0 153.2L896.5 153.6L897.9 154.0L899.4 154.4L900.8 154.8L902.2 155.3L903.6 155.8L905.0 156.4L906.4 156.9L907.8 157.5L909.1 158.1L910.5 158.7L911.9 159.2L913.3 159.8L914.7 160.4L916.0 161.0L917.4 161.6L918.8 162.2L920.2 162.8L921.5 163.4L922.9 164.1L924.2 164.7L925.6 165.4L926.9 166.0L928.3 166.7L929.6 167.4L930.9 168.1L932.2 168.9L933.5 169.6L934.8 170.4L936.1 171.1L937.4 171.9L938.7 172.7L939.9 173.4L941.2 174.2L942.5 175.0L943.8 175.7L945.1 176.5L946.4 177.3L947.7 178.1L948.9 178.8L950.2 179.6L951.5 180.4L952.8 181.2L954.0 182.0L955.3 182.8L956.5 183.7L957.8 184.5L959.0 185.4L960.2 186.2L961.5 187.1L962.7 187.9L963.9 188.8L965.1 189.7L966.3 190.6L967.6 191.5L968.8 192.3L970.0 193.2L971.2 194.1L972.4 195.0L973.6 195.9L974.8 196.7L976.1 197.6L977.3 198.5L978.5 199.4L979.7 200.3L980.9 201.2L982.1 202.1L983.2 203.0L984.4 204.0L985.6 204.9L986.7 205.9L987.9 206.9L989.0 207.8L990.1 208.8L991.2 209.8L992.4 210.8L993.5 211.8L994.6 212.8L995.7 213.8L996.9 214.8L998.0 215.8L999.1 216.8L1000.2 217.8L1001.4 218.7L1002.5 219.7L1003.6 220.7L1004.8 221.7L1005.9 222.7L1007.0 223.7L1008.2 224.6L1009.3 225.6L1010.4 226.6L1011.6 227.6L1012.7 228.6L1013.8 229.6L1015.0 230.5L1016.1 231.5L1017.2 232.5L1018.4 233.5L1019.5 234.5L1020.6 235.4L1021.8 236.4L1022.9 237.4L1024.0 238.4L1025.2 239.4L1026.3 240.4L1027.4 241.4L1028.5 242.4L1029.7 243.4L1030.8 244.4L1031.9 245.4L1033.0 246.4L1034.1 247.4L1035.1 248.5L1036.2 249.5L1037.3 250.5L1038.4 251.6L1039.5 252.6L1040.5 253.7L1041.6 254.7L1042.7 255.8L1043.7 256.8L1044.8 257.9L1045.9 258.9L1047.0 260.0L1048.0 261.0L1049.1 262.1L1050.2 263.1L1051.2 264.2L1052.3 265.2L1053.4 266.3L1054.5 267.3L1055.5 268.4L1056.6 269.4L1057.7 270.5L1058.7 271.5L1059.8 272.6L1060.9 273.6L1062.0 274.7L1063.1 275.7L1064.1 276.7L1065.2 277.8L1066.3 278.8L1067.4 279.8L1068.5 280.8L1069.6 281.9L1070.7 282.9L1071.8 283.9L1072.9 284.9L1074.0 285.9L1075.1 287.0L1076.2 288.0L1077.3 289.0L1078.4 290.0L1079.5 291.1L1080.6 292.1L1081.7 293.1L1082.8 294.2L1083.8 295.2L1084.9 296.2L1086.0 297.3L1087.1 298.3L1088.2 299.3L1089.3 300.4L1090.4 301.4L1091.4 302.4L1092.5 303.5L1093.6 304.5L1094.7 305.6L1095.8 306.6L1096.8 307.6L1097.9 308.7L1099.0 309.7L1100.1 310.8L1101.1 311.8L1102.2 312.9L1103.3 313.9L1104.4 314.9L1105.5 315.9L1106.6 316.9L1107.7 317.9L1108.9 318.9L1110.0 319.8L1111.2 320.7L1112.4 321.6L1113.7 322.4L1114.9 323.2L1116.2 324.1L1117.4 324.8L1118.7 325.6L1120.0 326.4L1121.3 327.2L1122.6 327.9L1123.9 328.7L1125.2 329.4L1126.5 330.2L1127.8 330.9L1129.1 331.6L1130.4 332.3L1131.7 333.0L1133.1 333.7L1134.4 334.4L1135.7 335.1L1137.1 335.8L1138.4 336.5L1139.7 337.2L1141.0 337.9L1142.4 338.6L1143.7 339.3L1145.0 340.0L1146.4 340.7L1147.7 341.4L1149.0 342.1L1150.3 342.8L1151.7 343.5L1153.0 344.2L1154.3 344.9L1155.6 345.7L1156.9 346.4L1158.2 347.1L1159.6 347.8L1160.9 348.5L1162.2 349.1L1163.6 349.7L1164.9 350.3L1166.3 350.9L1167.7 351.4L1169.1 351.9L1170.5 352.3L1172.0 352.8L1173.4 353.2L1174.8 353.6L1176.3 354.0L1177.7 354.4L1179.1 354.9L1180.6 355.3L1182.0 355.8L1183.4 356.2L1184.9 356.7L1186.3 357.2L1187.7 357.6L1189.1 358.1L1190.6 358.6L1192.0 359.0L1193.4 359.5L1194.8 359.9L1196.3 360.4L1197.7 360.8L1199.1 361.2L1200.6 361.6L1202.0 362.0L1203.5 362.4L1204.9 362.8L1206.4 363.2L1207.8 363.6L1209.3 364.0L1210.7 364.4L1212.2 364.8L1213.6 365.2L1215.1 365.6L1216.5 363.4L1218.0 363.7L1219.4 364.1L1220.9 364.4L1222.3 364.7L1223.8 365.1L1225.3 367.9L1226.7 368.2L1228.2 368.5L1229.7 368.7L1231.2 369.0L1232.7 369.2L1234.1 369.4L1235.6 369.6L1237.1 369.9L1238.6 370.1L1240.1 370.3L1241.6 370.5L1243.0 370.7L1244.5 371.0L1246.0 371.2L1247.5 371.4L1249.0 371.6L1250.5 371.8L1252.0 372.0L1253.4 372.1L1254.9 372.3L1256.4 372.5L1257.9 372.7L1259.4 372.8L1260.9 370.8L1262.4 370.9L1263.9 371.1L1265.4 371.2L1266.9 371.4L1268.4 371.5L1269.9 371.7L1271.3 374.0L1272.8 374.2L1274.3 374.3L1275.8 374.4L1277.3 374.5L1278.8 374.6L1280.3 374.7L1281.8 374.7L1283.3 374.8L1284.8 374.8L1286.3 374.9L1287.8 374.9L1289.3 374.9L1290.8 374.9L1292.3 374.9L1293.8 374.9L1295.3 374.9L1296.8 374.9L1298.3 374.9L1299.8 374.9L1301.3 375.0L1302.8 377.1L1304.3 377.2L1305.8 377.3L1307.3 377.4L1308.7 375.5L1310.2 375.7L1311.7 375.9L1313.2 376.1L1314.6 376.4L1316.1 376.7L1317.6 377.0L1319.0 377.3L1320.5 377.6L1322.0 375.1L1323.4 375.4L1324.9 375.7L1326.4 376.1L1327.8 376.4L1329.3 376.7L1330.8 379.9L1332.2 380.2L1333.7 380.5L1335.2 380.8L1336.6 381.1L1338.1 381.4L1339.6 381.7L1341.0 382.0L1342.5 382.2L1344.0 382.5L1345.5 382.8L1346.9 383.0L1348.4 383.3L1349.9 383.5L1351.4 383.8L1352.9 384.0L1354.3 384.3L1355.8 384.6L1357.3 384.8L1358.8 385.1L1360.2 385.3L1361.7 385.6L1363.2 385.9L1364.7 386.2L1366.1 386.5L1367.6 386.8L1369.1 387.1L1370.5 387.5L1372.0 387.8L1373.4 388.2L1374.8 388.6L1376.3 389.1L1377.7 392.2L1379.1 392.7L1380.6 393.1L1382.0 390.8L1383.4 391.3L1384.9 391.7L1386.3 392.2L1387.7 392.6L1389.2 393.1L1390.6 393.5L1392.0 394.0L1393.4 394.5L1394.9 394.9L1396.3 395.4L1397.7 395.8L1399.2 396.3L1400.6 396.7L1402.0 397.2L1403.5 397.6L1404.9 398.1L1406.3 398.5L1407.7 399.0L1409.2 399.4L1410.6 399.9L1412.0 400.3L1413.5 400.8L1414.9 401.2L1416.3 401.6L1417.8 402.1L1419.2 402.5L1420.7 402.9L1422.1 403.4L1423.5 406.2L1425.0 406.6L1426.4 407.0L1427.8 407.5L1429.3 407.9L1430.7 408.3L1432.1 408.7L1433.6 406.8L1435.0 407.2L1436.5 407.7L1437.9 408.1L1439.3 408.5L1440.8 409.0L1442.2 409.4L1443.6 409.8L1445.1 410.3L1446.5 410.7L1448.0 411.1L1449.4 414.1L1450.8 414.6L1452.3 415.0L1453.7 415.4L1455.2 415.8L1456.6 416.3L1458.0 416.7L1459.5 414.5L1460.9 414.9L1462.4 415.3L1463.8 415.7L1465.2 416.1L1466.7 416.6L1468.1 417.0L1469.6 417.4L1471.0 417.8L1472.5 418.2L1473.9 418.6L1475.3 419.0L1476.8 419.4L1478.2 419.8L1479.7 420.3L1481.1 420.7L1482.5 421.1L1484.0 421.5L1485.4 421.9L1486.9 422.3L1488.3 422.7L1489.8 423.1L1491.2 423.5L1492.7 423.9L1494.1 424.3L1495.6 424.7L1497.0 425.1L1498.5 425.4L1499.9 425.8L1501.4 426.1L1502.8 426.4L1504.3 426.7L1505.8 427.0L1507.2 425.0L1508.7 425.3L1510.2 425.6L1511.7 425.9L1513.1 426.2L1514.6 428.8L1516.1 429.1L1517.5 429.4L1519.0 429.7L1520.5 430.0L1522.0 430.3L1523.4 430.6L1524.9 430.9L1526.4 431.1L1527.8 431.4L1529.3 431.7L1530.8 432.0L1532.3 432.3L1533.7 432.6L1535.2 432.9L1536.7 433.2L1538.1 433.5L1539.6 433.8L1541.1 434.2L1542.5 434.5L1544.0 434.8L1545.4 435.2L1546.9 435.5L1548.4 438.5L1549.8 438.9L1551.3 439.2L1552.7 439.6L1554.2 439.9L1555.6 440.3L1557.1 438.0L1558.6 438.4L1560.0 438.8L1561.5 439.1L1562.9 439.5L1564.4 439.9L1565.8 440.2L1567.3 440.6L1568.7 441.0L1570.2 441.3L1571.7 441.7L1573.1 442.0L1574.6 442.4L1576.0 442.8L1577.5 443.1L1578.9 443.4L1580.4 443.8L1581.9 444.1L1583.3 444.4L1584.8 444.7L1586.3 444.9L1587.8 445.2L1589.2 443.0L1590.7 443.2L1592.2 443.4L1593.7 443.7L1595.2 443.9L1596.7 444.1L1598.1 446.7L1599.6 446.9L1601.1 447.1L1602.6 447.3L1604.1 447.5L1605.6 447.7L1607.1 447.9L1608.5 448.1L1610.0 448.3L1611.5 448.5L1613.0 448.7L1614.5 448.9L1616.0 449.1L1617.5 449.3L1618.9 449.6L1620.4 449.8L1621.9 450.0L1623.4 450.3L1624.8 450.6L1626.3 450.9L1627.8 451.2L1629.2 451.6L1630.7 452.0L1632.1 452.4L1633.5 452.8L1635.0 453.2L1636.4 453.7L1637.8 456.4L1639.2 456.8L1640.7 457.3L1642.1 457.7L1643.5 458.2L1645.0 456.4L1646.4 456.8L1647.8 457.3L1649.3 457.7L1650.7 458.1L1652.1 458.5L1653.6 458.8L1655.0 459.1L1656.5 459.4L1658.0 459.6L1659.5 459.8L1660.9 460.0L1662.4 460.2L1663.9 460.3L1665.4 460.4L1666.9 460.5L1668.4 460.7L1669.9 460.8L1671.4 460.9L1672.9 461.0L1674.4 461.1L1675.9 461.2L1677.4 463.5L1678.9 463.6L1680.4 463.8L1681.9 463.9L1683.4 461.7L1684.9 461.8L1686.4 461.9L1687.8 462.0L1689.3 462.1L1690.8 462.3L1692.3 462.4L1693.8 462.5L1695.3 462.7L1696.8 462.8L1698.3 463.0L1699.8 463.1L1701.3 463.3L1702.8 463.4L1704.3 466.1L1705.8 466.2L1707.3 466.3L1708.8 466.5L1710.2 466.6L1711.7 466.8L1713.2 464.4L1714.7 464.5L1716.2 464.7L1717.7 464.8L1719.2 464.9L1720.7 465.0L1722.2 465.1L1723.7 465.2L1725.2 465.3L1726.7 465.4L1728.2 465.5L1729.7 465.6L1731.2 465.7L1732.7 465.8L1734.2 465.9L1735.7 466.0L1737.2 466.1L1738.7 466.2L1740.2 466.3L1741.7 466.4L1743.2 466.4L1744.7 468.7L1746.2 468.8L1747.7 468.9L1749.1 469.0L1750.6 469.1L1752.1 469.2L1753.6 469.3L1755.1 467.2L1756.6 467.3L1758.1 467.4L1759.6 467.5L1761.1 467.6L1762.6 467.7L1764.1 467.8L1765.6 467.9L1767.1 467.9L1768.6 468.0L1770.1 468.1L1771.6 468.2L1773.1 468.3L1774.6 468.3L1776.1 468.4L1777.6 468.4L1779.1 468.5L1780.6 470.9L1782.1 471.0L1783.6 471.0L1785.1 471.0L1786.6 471.1L1788.1 468.7L1789.6 468.8L1791.1 468.8L1792.6 468.9L1794.1 468.9L1795.6 468.9L1797.1 469.0L1798.6 469.0L1800.1 469.0L1801.6 469.1L1803.1 469.1L1804.6 469.1L1806.1 469.2L1807.6 469.2L1809.1 469.3L1810.6 469.3L1812.1 469.3L1813.6 469.4L1815.1 469.4L1816.6 469.4L1818.1 469.5L1819.6 469.5L1821.1 469.5L1822.6 469.6L1824.1 469.6L1825.6 469.7L1827.1 467.4L1828.6 467.5L1830.1 467.5L1831.6 467.6L1833.1 467.6L1834.6 467.6L1836.1 467.7L1837.6 470.0L1839.1 470.0L1840.6 470.0L1842.1 470.1L1843.6 470.1L1845.1 470.2L1846.6 470.2L1848.1 470.2L1849.6 470.3L1851.1 470.3L1852.6 470.4L1854.1 470.4L1855.6 470.4L1857.1 470.5L1858.6 470.5L1860.1 470.6L1861.6 470.6L1863.1 470.6L1864.6 470.7L1866.1 473.3L1867.6 473.3L1869.1 473.4L1870.6 473.4L1872.1 473.4L1873.6 473.5L1875.1 470.9L1876.6 471.0L1878.1 471.0L1879.6 471.1L1881.1 471.1L1882.6 471.1L1884.1 471.2L1885.6 471.2L1887.1 471.2L1888.6 471.3L1890.1 474.1L1891.6 474.1L1893.1 474.1L1894.6 474.2L1896.1 471.4L1897.6 471.4L1899.1 471.5L1900.6 471.5L1902.1 471.5L1903.6 471.5L1905.1 471.6L1906.6 471.6L1908.1 471.6L1909.6 471.6L1911.1 471.7L1912.6 471.7L1914.1 471.7L1915.6 471.7L1917.1 471.8L1918.6 471.8L1920.1 471.8L1921.6 471.8L1923.1 471.8L1924.6 471.9L1926.1 471.9L1927.6 471.9L1929.1 471.9L1930.6 472.0L1932.1 472.0L1933.6 472.0L1935.1 472.0L1936.6 472.0L1938.1 472.1L1939.6 472.1L1941.1 472.1L1942.6 474.6L1944.1 474.6L1945.6 474.5L1947.1 472.0L1948.6 472.0L1950.1 471.9L1951.5 471.9L1953.0 471.8L1954.5 471.8L1956.0 471.7L1957.5 471.7L1959.0 471.6L1960.5 471.5L1962.0 471.5L1963.5 471.4L1965.0 471.3L1966.5 471.3L1968.0 471.2L1969.5 471.1L1971.0 471.1L1972.5 471.0L1974.0 471.0L1975.5 470.9L1977.0 470.9L1978.5 470.9L1980.0 470.8L1981.5 470.8L1983.0 470.8L1984.5 468.1L1986.0 468.1L1987.5 468.1L1989.0 468.1L1990.5 468.1L1992.0 468.1L1993.5 468.1L1995.0 470.8L1996.5 470.7L1998.0 470.7L1999.5 470.7L2001.0 470.7L2002.5 470.7L2004.0 470.7L2005.5 470.7L2007.0 470.7L2008.5 470.7L2010.0 470.7L2011.5 468.3L2013.0 468.3L2014.5 468.3L2016.0 468.3L2017.5 468.3L2019.0 470.7L2020.5 470.7L2022.0 470.7L2023.5 470.7L2025.0 470.7L2026.5 470.7L2028.0 470.7L2029.5 470.7L2031.0 470.7L2032.5 470.7L2034.0 470.6L2035.5 470.6L2037.0 470.6L2038.5 470.6L2040.0 470.6L2041.4 470.6L2042.8 470.6L2044.2 470.6L2045.5 470.6L2046.7 470.6L2047.8 470.6L2048.8 470.6L2052.0 470.6" fill="none" stroke="#002ADB" stroke-width="12.2" stroke-linejoin="miter" stroke-miterlimit="3" stroke-linecap="round"/>
<path d="M311.0 68.5L313.1 68.6L314.2 68.6L315.6 68.6L317.0 68.7L318.5 68.7L320.0 68.7L321.5 68.8L323.0 68.8L324.5 68.9L326.0 68.9L327.5 68.9L329.0 69.0L330.5 69.0L332.0 69.1L333.5 69.1L335.0 69.1L336.5 69.2L338.0 69.2L339.5 69.3L341.0 69.3L342.5 69.4L344.0 69.4L345.5 69.5L347.0 69.5L348.5 69.6L350.0 69.8L351.5 69.9L353.0 70.0L354.4 70.2L355.9 70.4L357.4 70.5L358.9 70.7L360.4 70.8L361.9 71.0L363.4 71.2L364.9 71.3L366.4 71.5L367.9 71.7L369.4 71.8L370.8 72.0L372.3 72.2L373.8 72.4L375.3 72.6L376.8 72.8L378.3 73.0L379.8 73.1L381.3 73.3L382.8 73.5L384.2 73.7L385.7 73.9L387.2 74.1L388.7 74.3L390.2 74.5L391.7 74.7L393.2 74.9L394.6 75.1L396.1 75.3L397.6 75.5L399.1 75.7L400.6 76.0L402.1 76.2L403.5 76.6L405.0 76.9L406.4 77.3L407.9 77.7L409.3 78.0L410.8 78.4L412.2 78.8L413.7 79.2L415.1 79.6L416.6 80.0L418.0 80.3L419.5 80.7L420.9 81.1L422.4 81.5L423.8 81.9L425.3 82.3L426.7 82.7L428.2 83.1L429.6 83.5L431.0 84.0L432.4 84.6L433.8 85.1L435.2 85.7L436.6 86.3L437.9 86.8L439.3 87.4L440.7 88.0L442.1 88.6L443.5 89.2L444.9 89.7L446.2 90.3L447.6 90.9L449.0 91.5L450.4 92.1L451.8 92.6L453.2 93.2L454.6 93.7L456.0 94.3L457.4 94.8L458.8 95.3L460.2 95.8L461.6 96.3L463.0 96.8L464.5 97.3L465.9 97.8L467.3 98.3L468.7 98.7L470.1 99.2L471.5 99.7L473.0 100.2L474.4 100.7L475.8 101.2L477.2 101.7L478.6 102.2L480.0 102.7L481.5 103.1L482.9 103.6L484.3 104.1L485.7 104.5L487.2 105.0L488.6 105.5L490.0 105.9L491.4 106.4L492.9 106.9L494.3 107.3L495.7 107.8L497.1 108.3L498.6 108.7L500.0 109.2L501.4 109.7L502.9 110.1L504.3 110.6L505.7 111.0L507.2 111.4L508.6 111.7L510.1 112.0L511.6 112.3L513.0 112.6L514.5 112.9L516.0 113.1L517.5 113.4L518.9 113.7L520.4 113.9L521.9 114.2L523.4 114.5L524.8 114.7L526.3 115.0L527.8 115.3L529.3 115.5L530.7 115.8L532.2 116.1L533.7 116.4L535.2 116.7L536.6 117.0L538.1 117.3L539.6 117.6L541.0 117.9L542.5 118.2L544.0 118.5L545.4 118.8L546.9 119.1L548.4 119.4L549.9 119.7L551.3 120.0L552.8 120.3L554.3 120.6L555.7 120.9L557.2 121.2L558.7 121.4L560.2 121.7L561.6 121.9L563.1 122.1L564.6 122.4L566.1 122.6L567.6 122.8L569.1 123.0L570.5 123.2L572.0 123.5L573.5 123.7L575.0 123.9L576.5 124.1L578.0 124.3L579.5 124.5L580.9 124.7L582.4 124.9L583.9 125.1L585.4 125.2L586.9 125.4L588.4 125.5L589.9 125.6L591.4 125.7L592.9 125.8L594.4 125.9L595.9 126.0L597.4 126.1L598.9 126.2L600.4 126.3L601.9 126.4L603.4 126.5L604.9 126.6L606.3 126.7L607.8 126.8L609.3 126.9L610.8 127.0L612.3 127.1L613.8 127.2L615.3 127.3L616.8 127.4L618.3 127.5L619.8 127.6L621.3 127.7L622.8 127.8L624.3 128.0L625.8 128.1L627.3 128.3L628.8 128.4L630.3 128.6L631.8 128.7L633.3 128.9L634.8 129.0L636.2 129.2L637.7 129.3L639.2 129.5L640.7 129.6L642.2 129.8L643.7 129.9L645.2 130.1L646.7 130.2L648.2 130.4L649.7 130.5L651.2 130.7L652.7 130.8L654.2 131.0L655.6 131.1L657.1 131.3L658.6 131.4L660.1 131.5L661.6 131.7L663.1 131.8L664.6 132.0L666.1 132.1L667.6 132.2L669.1 132.3L670.6 132.4L672.1 132.5L673.6 132.6L675.1 132.7L676.6 132.7L678.1 132.8L679.6 132.9L681.1 133.0L682.6 133.1L684.1 133.2L685.6 133.3L687.1 133.4L688.6 133.4L690.1 133.5L691.6 133.6L693.1 133.7L694.5 133.8L696.0 133.9L697.5 134.0L699.0 134.1L700.5 134.1L702.0 134.2L703.5 134.3L705.0 134.4L706.5 134.5L708.0 134.5L709.5 134.6L711.0 134.7L712.5 134.7L714.0 134.7L715.5 134.8L717.0 134.8L718.5 134.9L720.0 134.9L721.5 134.9L723.0 135.0L724.5 135.0L726.0 135.1L727.5 135.1L729.0 135.1L730.5 135.2L732.0 135.2L733.5 135.2L735.0 135.3L736.5 135.3L738.0 135.4L739.5 135.4L741.0 135.4L742.5 135.5L744.0 135.5L745.5 135.6L747.0 135.6L748.5 135.6L750.0 135.7L751.5 135.7L753.0 135.8L754.5 135.8L756.0 135.9L757.5 135.9L759.0 136.0L760.5 136.0L762.0 136.1L763.5 136.1L765.0 136.1L766.5 136.2L768.0 136.2L769.5 136.3L771.0 136.3L772.5 136.4L774.0 136.4L775.5 136.5L777.0 136.5L778.5 136.6L780.0 136.6L781.5 136.7L783.0 136.7L784.5 136.8L786.0 136.8L787.5 136.9L789.0 136.9L790.5 137.0L792.0 137.0L793.5 137.1L795.0 137.1L796.5 137.1L798.0 137.1L799.5 137.1L801.0 137.2L802.5 137.2L804.0 137.2L805.5 137.2L807.0 137.2L808.5 137.2L810.0 137.2L811.5 137.3L813.0 137.3L814.5 137.3L816.0 137.3L817.5 137.3L819.0 137.3L820.5 137.3L822.0 137.4L823.5 137.4L825.0 137.4L826.5 137.4L828.0 137.4L829.5 137.4L831.0 137.4L832.5 137.5L834.0 137.5L835.5 137.5L837.0 137.6L838.5 137.7L840.0 137.8L841.5 137.9L843.0 138.0L844.5 138.2L845.9 138.3L847.4 138.4L848.9 138.6L850.4 138.7L851.9 138.9L853.4 139.0L854.9 139.1L856.4 139.3L857.9 139.4L859.4 139.5L860.9 139.7L862.4 139.8L863.9 139.9L865.4 140.1L866.9 140.2L868.4 140.3L869.9 140.4L871.4 140.4L872.9 140.5L874.4 140.5L875.9 140.5L877.4 140.5L878.9 140.5L880.4 140.5L881.9 140.5L883.4 140.5L884.9 140.5L886.4 140.5L887.9 140.5L889.4 140.5L890.9 140.5L892.4 140.5L893.9 140.5L895.4 140.5L896.9 140.5L898.4 140.5L899.9 140.5L901.4 140.5L902.9 140.5L904.4 140.5L905.9 140.5L907.4 140.5L908.9 140.5L910.4 140.5L911.9 140.5L913.4 140.5L914.9 140.5L916.4 140.5L917.9 140.5L919.4 140.5L920.9 140.5L922.4 140.5L923.9 140.5L925.4 140.5L926.9 140.5L928.4 140.5L929.9 140.5L931.4 140.5L932.9 140.5L934.4 140.5L935.9 140.5L937.4 140.5L938.9 140.5L940.4 140.5L941.9 140.5L943.4 140.5L944.9 140.5L946.4 140.5L947.9 140.5L949.3 140.5L950.8 140.5L952.3 140.6L953.8 140.7L955.3 140.9L956.8 141.1L958.2 141.4L959.7 141.8L961.1 142.1L962.6 142.5L964.1 142.7L965.5 142.9L967.0 143.1L968.5 143.2L970.0 143.3L971.5 143.4L973.0 143.4L974.5 143.5L976.0 143.6L977.5 143.6L979.0 143.7L980.5 143.8L982.0 143.9L983.5 143.9L985.0 144.0L986.5 144.1L988.0 144.1L989.5 144.2L991.0 144.3L992.5 144.4L994.0 144.4L995.5 144.5L997.0 144.6L998.5 144.7L1000.0 144.7L1001.5 144.8L1003.0 144.9L1004.5 144.9L1006.0 145.0L1007.5 145.1L1009.0 145.2L1010.5 145.2L1012.0 145.3L1013.5 145.4L1015.0 145.4L1016.4 145.5L1017.9 145.6L1019.4 145.7L1020.9 145.7L1022.4 145.8L1023.9 145.9L1025.4 145.9L1026.9 146.0L1028.4 146.1L1029.9 146.2L1031.4 146.2L1032.9 146.3L1034.4 146.4L1035.9 146.4L1037.4 146.5L1038.9 146.6L1040.4 146.6L1041.9 146.7L1043.4 146.7L1044.9 146.8L1046.4 146.8L1047.9 146.9L1049.4 146.9L1050.9 147.0L1052.4 147.0L1053.9 147.1L1055.4 147.1L1056.9 147.2L1058.4 147.2L1059.9 147.3L1061.4 147.3L1062.9 147.4L1064.4 147.4L1065.9 147.5L1067.4 147.5L1068.9 147.6L1070.4 147.6L1071.9 147.7L1073.4 147.7L1074.9 147.8L1076.4 147.8L1077.9 147.9L1079.4 147.9L1080.9 148.0L1082.4 148.0L1083.9 148.1L1085.4 148.1L1086.9 148.2L1088.4 148.2L1089.9 148.3L1091.4 148.3L1092.9 148.4L1094.4 148.4L1095.9 148.5L1097.4 148.5L1098.9 148.6L1100.4 148.6L1101.9 148.7L1103.4 148.7L1104.9 148.8L1106.4 148.8L1107.9 148.9L1109.4 148.9L1110.9 149.0L1112.4 149.0L1113.9 149.1L1115.4 149.1L1116.9 149.2L1118.4 149.2L1119.9 149.3L1121.4 149.3L1122.9 149.4L1124.4 149.4L1125.9 149.4L1127.4 149.5L1128.9 149.5L1130.4 149.5L1131.9 149.6L1133.4 149.6L1134.9 149.6L1136.4 149.6L1137.9 149.6L1139.4 149.6L1140.9 149.7L1142.4 149.7L1143.9 149.7L1145.4 149.7L1146.9 149.7L1148.4 149.7L1149.9 149.8L1151.4 149.8L1152.9 149.8L1154.4 149.8L1155.9 149.8L1157.4 149.9L1158.9 149.9L1160.4 149.9L1161.9 149.9L1163.4 149.9L1164.9 149.9L1166.4 150.0L1167.9 150.0L1169.4 150.0L1170.9 150.1L1172.4 150.1L1173.9 150.2L1175.4 150.3L1176.9 150.4L1178.4 150.5L1179.9 150.5L1181.4 150.6L1182.9 150.7L1184.4 150.8L1185.8 150.9L1187.3 151.0L1188.8 151.0L1190.3 151.1L1191.8 151.2L1193.3 151.3L1194.8 151.4L1196.3 151.4L1197.8 151.5L1199.3 151.6L1200.8 151.7L1202.3 151.8L1203.8 151.8L1205.3 151.9L1206.8 152.0L1208.3 152.1L1209.8 152.1L1211.3 152.2L1212.8 152.3L1214.3 152.4L1215.8 152.4L1217.3 152.5L1218.8 152.6L1220.3 152.7L1221.8 152.7L1223.3 152.8L1224.8 152.9L1226.3 153.0L1227.8 153.0L1229.3 153.1L1230.8 153.2L1232.3 153.2L1233.8 153.3L1235.3 153.4L1236.8 153.5L1238.3 153.5L1239.8 153.6L1241.3 153.7L1242.8 153.8L1244.3 153.8L1245.8 153.9L1247.3 154.0L1248.8 154.1L1250.3 154.1L1251.8 154.2L1253.3 154.3L1254.8 154.3L1256.3 154.4L1257.8 154.5L1259.3 154.6L1260.8 154.6L1262.3 154.7L1263.7 154.8L1265.2 154.9L1266.7 155.0L1268.2 155.1L1269.7 155.1L1271.2 155.2L1272.7 155.3L1274.2 155.4L1275.7 155.5L1277.2 155.6L1278.7 155.7L1280.2 155.7L1281.7 155.8L1283.2 155.9L1284.7 156.0L1286.2 156.1L1287.7 156.2L1289.2 156.2L1290.7 156.3L1292.2 156.4L1293.7 156.5L1295.2 156.6L1296.7 156.7L1298.2 156.7L1299.7 156.8L1301.2 156.9L1302.7 157.0L1304.2 157.1L1305.7 157.2L1307.2 157.2L1308.7 157.3L1310.2 157.4L1311.7 157.5L1313.2 157.6L1314.7 157.7L1316.2 157.7L1317.7 157.8L1319.2 157.9L1320.7 158.0L1322.2 158.1L1323.7 158.1L1325.2 158.2L1326.7 158.3L1328.2 158.4L1329.6 158.4L1331.1 158.5L1332.6 158.6L1334.1 158.7L1335.6 158.7L1337.1 158.8L1338.6 158.9L1340.1 159.0L1341.6 159.1L1343.1 159.1L1344.6 159.2L1346.1 159.3L1347.6 159.4L1349.1 159.4L1350.6 159.5L1352.1 159.6L1353.6 159.7L1355.1 159.7L1356.6 159.8L1358.1 159.9L1359.6 160.0L1361.1 160.0L1362.6 160.1L1364.1 160.2L1365.6 160.3L1367.1 160.3L1368.6 160.4L1370.1 160.5L1371.6 160.6L1373.1 160.7L1374.6 160.7L1376.1 160.8L1377.6 160.9L1379.1 161.0L1380.6 161.1L1382.1 161.2L1383.6 161.2L1385.1 161.3L1386.6 161.4L1388.1 161.5L1389.6 161.6L1391.1 161.7L1392.6 161.7L1394.1 161.8L1395.6 161.9L1397.1 162.0L1398.6 162.1L1400.1 162.2L1401.5 162.2L1403.0 162.3L1404.5 162.4L1406.0 162.5L1407.5 162.6L1409.0 162.7L1410.5 162.8L1412.0 162.8L1413.5 162.9L1415.0 163.0L1416.5 163.1L1418.0 163.2L1419.5 163.3L1421.0 163.3L1422.5 163.4L1424.0 163.5L1425.5 163.6L1427.0 163.7L1428.5 163.7L1430.0 163.8L1431.5 163.9L1433.0 163.9L1434.5 163.9L1436.0 164.0L1437.5 164.0L1439.0 164.0L1440.5 164.0L1442.0 164.1L1443.5 164.1L1445.0 164.1L1446.5 164.1L1448.0 164.1L1449.5 164.2L1451.0 164.2L1452.5 164.2L1454.0 164.2L1455.5 164.2L1457.0 164.3L1458.5 164.3L1460.0 164.3L1461.5 164.4L1463.0 164.5L1464.5 164.5L1466.0 164.6L1467.5 164.7L1469.0 164.8L1470.5 164.9L1472.0 164.9L1473.5 165.0L1475.0 165.1L1476.5 165.2L1478.0 165.3L1479.5 165.3L1481.0 165.4L1482.5 165.5L1484.0 165.6L1485.5 165.7L1487.0 165.7L1488.5 165.8L1490.0 165.9L1491.5 166.0L1493.0 166.1L1494.5 166.1L1495.9 166.2L1497.4 166.3L1498.9 166.4L1500.4 166.5L1501.9 166.5L1503.4 166.6L1504.9 166.7L1506.4 166.8L1507.9 166.9L1509.4 167.0L1510.9 167.1L1512.4 167.2L1513.9 167.3L1515.4 167.4L1516.9 167.5L1518.4 167.6L1519.9 167.7L1521.4 167.8L1522.9 167.9L1524.4 168.0L1525.9 168.1L1527.4 168.2L1528.9 168.3L1530.4 168.4L1531.9 168.5L1533.4 168.6L1534.9 168.7L1536.4 168.8L1537.9 168.9L1539.4 169.0L1540.9 169.1L1542.4 169.2L1543.8 169.3L1545.3 169.4L1546.8 169.5L1548.3 169.6L1549.8 169.7L1551.3 169.8L1552.8 169.9L1554.3 170.0L1555.8 170.1L1557.3 170.2L1558.8 170.3L1560.3 170.4L1561.8 170.5L1563.3 170.6L1564.8 170.7L1566.3 170.8L1567.8 170.9L1569.3 171.0L1570.8 171.1L1572.3 171.2L1573.8 171.3L1575.3 171.4L1576.8 171.5L1578.3 171.6L1579.8 171.7L1581.3 171.8L1582.8 171.8L1584.3 171.9L1585.8 172.0L1587.3 172.1L1588.8 172.2L1590.2 172.4L1591.7 172.5L1593.2 172.6L1594.7 172.7L1596.2 172.9L1597.7 173.0L1599.2 173.2L1600.7 173.4L1602.2 173.5L1603.7 173.7L1605.2 173.8L1606.7 174.0L1608.2 174.2L1609.6 174.3L1611.1 174.5L1612.6 174.6L1614.1 174.8L1615.6 175.0L1617.1 175.1L1618.6 175.3L1620.1 175.4L1621.6 175.6L1623.1 175.8L1624.6 175.9L1626.1 176.1L1627.5 176.2L1629.0 176.4L1630.5 176.6L1632.0 176.7L1633.5 176.9L1635.0 177.0L1636.5 177.2L1638.0 177.4L1639.5 177.5L1641.0 177.7L1642.5 177.9L1643.9 178.0L1645.4 178.2L1646.9 178.4L1648.4 178.5L1649.9 178.7L1651.4 178.8L1652.9 179.0L1654.4 179.2L1655.9 179.3L1657.4 179.5L1658.9 179.7L1660.3 179.8L1661.8 180.0L1663.3 180.1L1664.8 180.3L1666.3 180.5L1667.8 180.6L1669.3 180.8L1670.8 181.0L1672.3 181.1L1673.8 181.3L1675.3 181.5L1676.7 181.7L1678.2 181.9L1679.7 182.1L1681.2 182.4L1682.6 182.7L1684.1 183.0L1685.6 183.3L1687.0 183.6L1688.5 184.0L1690.0 184.3L1691.4 184.6L1692.9 184.9L1694.4 185.2L1695.8 185.5L1697.3 185.8L1698.8 186.1L1700.3 186.4L1701.7 186.7L1703.2 187.0L1704.7 187.3L1706.1 187.6L1707.6 187.9L1709.1 188.2L1710.6 188.5L1712.0 188.8L1713.5 189.1L1715.0 189.4L1716.4 189.8L1717.9 190.1L1719.3 190.5L1720.8 190.8L1722.2 191.2L1723.7 191.6L1725.1 192.0L1726.6 192.3L1728.0 192.7L1729.5 193.2L1730.9 193.6L1732.3 194.0L1733.7 194.5L1735.0 194.9L1736.2 195.3L1737.1 195.6L1738.5 196.0L1740.6 196.0L1741.7 196.0L1743.1 196.1L1744.5 196.1L1746.0 196.1L1747.5 196.1L1749.0 196.1L1750.5 196.2L1752.0 196.2L1753.5 196.2L1755.0 196.2L1756.5 196.2L1758.0 196.3L1759.5 196.3L1761.0 196.3L1762.5 196.3L1764.0 196.3L1765.5 196.3L1767.0 196.3L1768.5 196.3L1770.0 196.3L1771.5 196.3L1773.0 196.3L1774.5 196.3L1776.0 196.3L1777.5 196.3L1779.0 196.3L1780.5 196.3L1782.0 196.3L1783.5 196.3L1785.0 196.3L1786.5 196.3L1788.0 196.3L1789.5 196.3L1791.0 196.3L1792.5 196.3L1794.0 196.3L1795.5 196.3L1797.0 196.3L1798.5 196.3L1800.0 196.3L1801.5 196.3L1803.0 196.3L1804.5 196.3L1806.0 196.3L1807.5 196.3L1809.0 196.3L1810.5 196.3L1812.0 196.3L1813.5 196.3L1815.0 196.3L1816.5 196.3L1818.0 196.3L1819.5 196.3L1821.0 196.3L1822.5 196.3L1824.0 196.3L1825.5 196.3L1827.0 196.3L1828.5 196.3L1830.0 196.3L1831.5 196.3L1833.0 196.3L1834.5 196.3L1836.0 196.3L1837.5 196.3L1839.0 196.3L1840.5 196.3L1842.0 196.3L1843.5 196.3L1845.0 196.3L1846.5 196.3L1848.0 196.3L1849.5 196.3L1851.0 196.3L1852.5 196.3L1854.0 196.3L1855.5 196.3L1857.0 196.3L1858.5 196.3L1860.0 196.3L1861.5 196.3L1863.0 196.3L1864.5 196.3L1866.0 196.3L1867.5 196.3L1869.0 196.3L1870.5 196.3L1872.0 196.3L1873.5 196.3L1875.0 196.3L1876.5 196.3L1878.0 196.3L1879.5 196.3L1881.0 196.3L1882.5 196.3L1884.0 196.3L1885.5 196.3L1887.0 196.3L1888.5 196.3L1890.0 196.3L1891.5 196.3L1893.0 196.3L1894.5 196.3L1896.0 196.3L1897.5 196.3L1899.0 196.3L1900.5 196.3L1902.0 196.3L1903.5 196.3L1905.0 196.3L1906.5 196.3L1908.0 196.3L1909.5 196.3L1911.0 196.3L1912.5 196.3L1914.0 196.3L1915.5 196.3L1917.0 196.3L1918.5 196.3L1920.0 196.3L1921.5 196.3L1923.0 196.3L1924.5 196.3L1926.0 196.3L1927.5 196.3L1929.0 196.3L1930.5 196.3L1932.0 196.3L1933.5 196.3L1935.0 196.3L1936.5 196.3L1938.0 196.3L1939.5 196.3L1941.0 196.3L1942.5 196.3L1944.0 196.3L1945.5 196.3L1947.0 196.3L1948.5 196.3L1950.0 196.3L1951.5 196.3L1953.0 196.3L1954.5 196.3L1956.0 196.3L1957.5 196.3L1959.0 196.3L1960.5 196.3L1962.0 196.3L1963.5 196.3L1965.0 196.3L1966.5 196.3L1968.0 196.3L1969.5 196.3L1971.0 196.3L1972.5 196.3L1974.0 196.3L1975.5 196.3L1977.0 196.3L1978.5 196.3L1980.0 196.3L1981.5 196.3L1983.0 196.3L1984.5 196.3L1986.0 196.3L1987.5 196.3L1989.0 196.3L1990.5 196.3L1992.0 196.3L1993.5 196.3L1995.0 196.3L1996.5 196.3L1998.0 196.3L1999.5 196.3L2001.0 196.3L2002.5 196.3L2004.0 196.3L2005.5 196.3L2007.0 196.3L2008.5 196.3L2010.0 196.3L2011.5 196.3L2013.0 196.3L2014.5 196.3L2016.0 196.3L2017.5 196.3L2019.0 196.3L2020.5 196.3L2022.0 196.3L2023.5 196.3L2025.0 196.3L2026.5 196.3L2028.0 196.3L2029.5 196.3L2031.0 196.3L2032.5 196.3L2034.0 196.3L2035.5 196.3L2037.0 196.3L2038.5 196.3L2040.0 196.3L2041.5 196.3L2043.0 196.3L2044.5 196.3L2046.0 196.3L2047.4 196.3L2048.8 196.3L2049.9 196.3L2050.8 196.3L2052.0 196.3" fill="none" stroke="#BC0088" stroke-width="12.2" stroke-linejoin="miter" stroke-miterlimit="3" stroke-linecap="round"/>
<g font-family="'Liberation Sans', Arial, sans-serif" font-size="74" fill="#000" text-anchor="end">
<text x="270" y="93.5">100</text>
<text x="270" y="302.0">80</text>
<text x="270" y="513.5">60</text>
<text x="270" y="725.3">40</text>
<text x="270" y="934.3">20</text>
<text x="270" y="1145.5">0</text>
</g>
<g font-family="'Liberation Sans', Arial, sans-serif" font-size="74" fill="#000" text-anchor="middle">
<text x="634.0" y="1215.8">200</text>
<text x="1010.8" y="1215.8">400</text>
<text x="1389.0" y="1215.8">600</text>
<text x="1768.0" y="1215.8">800</text>
</g>
<g font-family="'Liberation Sans', Arial, sans-serif" font-size="71" fill="#000">
<text x="1448.5" y="136.2" letter-spacing="0.79">Laponite Powder</text>
<text x="1492.6" y="316.1" letter-spacing="1.08">PDDA-Laponite</text>
<text x="1243.3" y="550.7" letter-spacing="1.25">PDDA-PSS-PDDA-Lap</text>
<text x="1231.5" y="853.3" letter-spacing="1.56">PDDA-PAA-PDDA-Lap</text>
</g>
<text x="841.9" y="1362.6" font-family="'Liberation Sans', Arial, sans-serif" font-size="85" letter-spacing="1.0">Temperature (°C)</text>
<text transform="translate(96.6 749) rotate(-90)" x="0" y="0" font-family="'Liberation Sans', Arial, sans-serif" font-size="85" letter-spacing="0.38">Weight (%)</text>
</g>
</svg>
</body></html>
